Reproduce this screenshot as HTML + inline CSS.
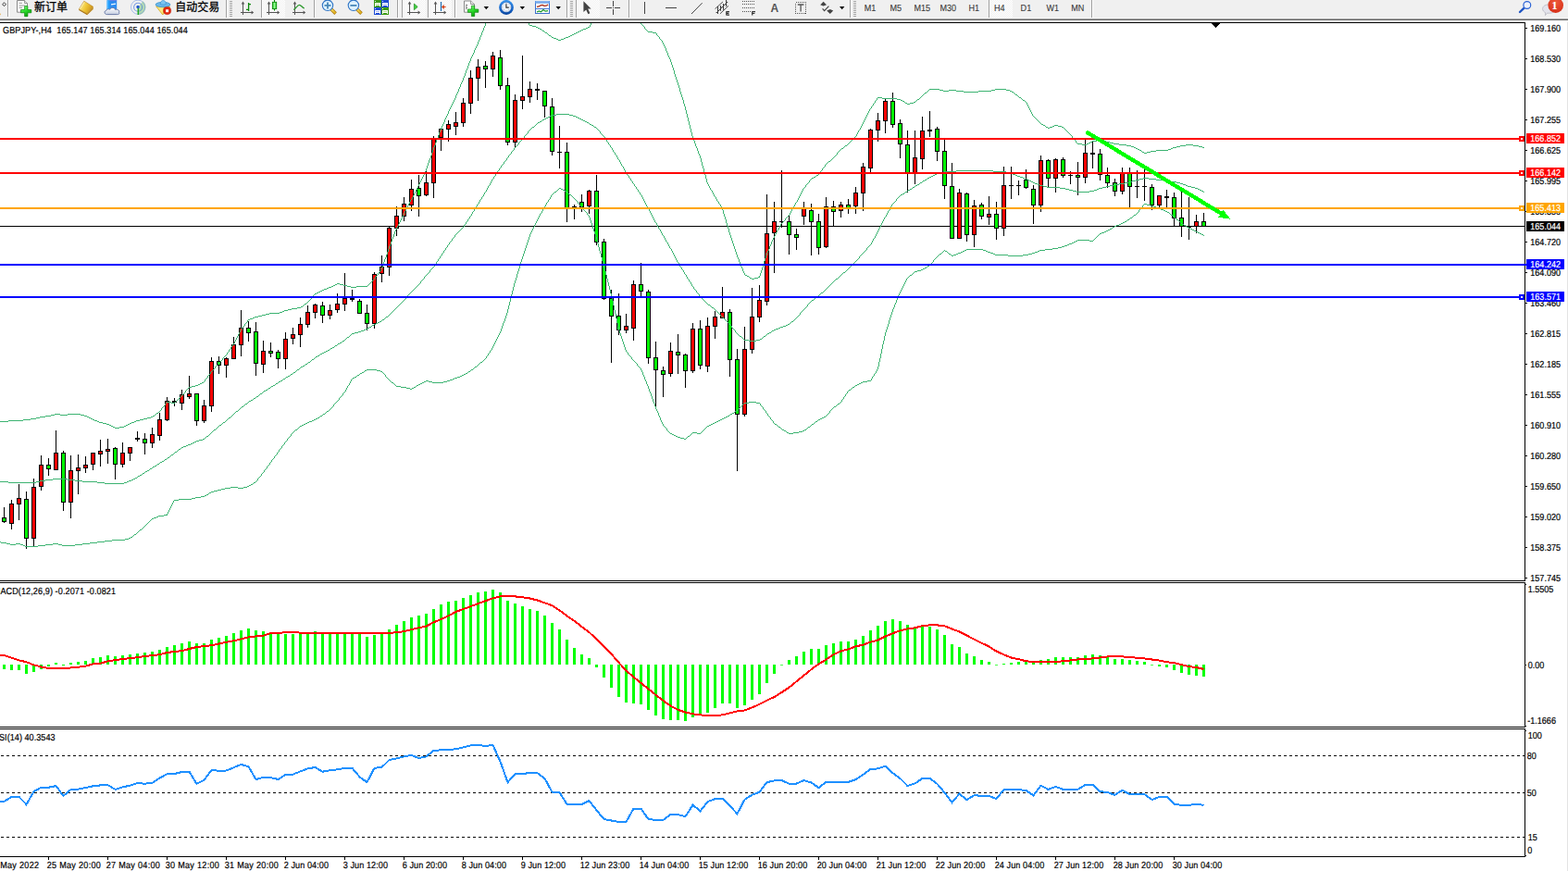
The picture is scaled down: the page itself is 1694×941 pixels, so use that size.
<!DOCTYPE html>
<html><head><meta charset="utf-8"><title>GBPJPY-,H4</title>
<style>html,body{margin:0;padding:0;background:#fff;overflow:hidden}body{width:1694px;height:941px;position:relative;font-family:"Liberation Sans",sans-serif}svg text{white-space:pre}</style>
</head><body>
<svg width="1694" height="941" viewBox="0 0 1694 941" style="position:absolute;left:0;top:0"><defs><clipPath id="cm"><rect x="0" y="25" width="1647" height="602"/></clipPath><clipPath id="cd"><rect x="0" y="630" width="1647" height="155"/></clipPath><clipPath id="cr"><rect x="0" y="788" width="1647" height="137"/></clipPath></defs><g shape-rendering="crispEdges"><rect x="0" y="24" width="1648" height="1" fill="#000"/><rect x="0" y="627" width="1648" height="1" fill="#000"/><rect x="1647" y="24" width="1" height="604" fill="#000"/><rect x="0" y="629" width="1648" height="1" fill="#000"/><rect x="0" y="785" width="1648" height="1" fill="#000"/><rect x="1647" y="629" width="1" height="157" fill="#000"/><rect x="0" y="787" width="1648" height="1" fill="#000"/><rect x="0" y="925" width="1648" height="1" fill="#000"/><rect x="1647" y="787" width="1" height="139" fill="#000"/><rect x="1693" y="22" width="1" height="919" fill="#e3e3e3"/><rect x="1648" y="30" width="2" height="1" fill="#000"/><rect x="1648" y="63" width="2" height="1" fill="#000"/><rect x="1648" y="96" width="2" height="1" fill="#000"/><rect x="1648" y="129" width="2" height="1" fill="#000"/><rect x="1648" y="162" width="2" height="1" fill="#000"/><rect x="1648" y="195" width="2" height="1" fill="#000"/><rect x="1648" y="228" width="2" height="1" fill="#000"/><rect x="1648" y="261" width="2" height="1" fill="#000"/><rect x="1648" y="294" width="2" height="1" fill="#000"/><rect x="1648" y="327" width="2" height="1" fill="#000"/><rect x="1648" y="360" width="2" height="1" fill="#000"/><rect x="1648" y="393" width="2" height="1" fill="#000"/><rect x="1648" y="426" width="2" height="1" fill="#000"/><rect x="1648" y="459" width="2" height="1" fill="#000"/><rect x="1648" y="492" width="2" height="1" fill="#000"/><rect x="1648" y="525" width="2" height="1" fill="#000"/><rect x="1648" y="558" width="2" height="1" fill="#000"/><rect x="1648" y="591" width="2" height="1" fill="#000"/><rect x="1648" y="624" width="2" height="1" fill="#000"/><rect x="1648" y="631" width="1" height="1" fill="#000"/><rect x="1648" y="718" width="1" height="1" fill="#000"/><rect x="1648" y="784" width="1" height="1" fill="#000"/><rect x="1648" y="789" width="1" height="1" fill="#000"/><rect x="1648" y="924" width="1" height="1" fill="#000"/><rect x="52" y="926" width="1" height="3" fill="#000"/><rect x="116" y="926" width="1" height="3" fill="#000"/><rect x="180" y="926" width="1" height="3" fill="#000"/><rect x="244" y="926" width="1" height="3" fill="#000"/><rect x="308" y="926" width="1" height="3" fill="#000"/><rect x="372" y="926" width="1" height="3" fill="#000"/><rect x="436" y="926" width="1" height="3" fill="#000"/><rect x="500" y="926" width="1" height="3" fill="#000"/><rect x="564" y="926" width="1" height="3" fill="#000"/><rect x="628" y="926" width="1" height="3" fill="#000"/><rect x="692" y="926" width="1" height="3" fill="#000"/><rect x="756" y="926" width="1" height="3" fill="#000"/><rect x="820" y="926" width="1" height="3" fill="#000"/><rect x="884" y="926" width="1" height="3" fill="#000"/><rect x="948" y="926" width="1" height="3" fill="#000"/><rect x="1012" y="926" width="1" height="3" fill="#000"/><rect x="1076" y="926" width="1" height="3" fill="#000"/><rect x="1140" y="926" width="1" height="3" fill="#000"/><rect x="1204" y="926" width="1" height="3" fill="#000"/><rect x="1268" y="926" width="1" height="3" fill="#000"/><polygon points="1308.6,25 1318.4,25 1313.5,30.2" fill="#000"/><rect x="0" y="244" width="1647" height="1" fill="#000"/></g><g shape-rendering="crispEdges" clip-path="url(#cm)"><rect x="4" y="548" width="1" height="17" fill="#000"/><rect x="2" y="559" width="5" height="5" fill="#000"/><rect x="3" y="560" width="3" height="3" fill="#00ff00"/><rect x="12" y="540" width="1" height="32" fill="#000"/><rect x="10" y="544" width="5" height="22" fill="#000"/><rect x="11" y="545" width="3" height="20" fill="#ff0000"/><rect x="20" y="523" width="1" height="39" fill="#000"/><rect x="18" y="538" width="5" height="7" fill="#000"/><rect x="19" y="539" width="3" height="5" fill="#ff0000"/><rect x="28" y="531" width="1" height="62" fill="#000"/><rect x="26" y="539" width="5" height="43" fill="#000"/><rect x="27" y="540" width="3" height="41" fill="#00ff00"/><rect x="36" y="517" width="1" height="74" fill="#000"/><rect x="34" y="526" width="5" height="56" fill="#000"/><rect x="35" y="527" width="3" height="54" fill="#ff0000"/><rect x="44" y="492" width="1" height="38" fill="#000"/><rect x="42" y="502" width="5" height="24" fill="#000"/><rect x="43" y="503" width="3" height="22" fill="#ff0000"/><rect x="52" y="495" width="1" height="19" fill="#000"/><rect x="50" y="502" width="5" height="5" fill="#000"/><rect x="51" y="503" width="3" height="3" fill="#00ff00"/><rect x="60" y="465" width="1" height="43" fill="#000"/><rect x="58" y="489" width="5" height="19" fill="#000"/><rect x="59" y="490" width="3" height="17" fill="#ff0000"/><rect x="68" y="487" width="1" height="65" fill="#000"/><rect x="66" y="489" width="5" height="54" fill="#000"/><rect x="67" y="490" width="3" height="52" fill="#00ff00"/><rect x="76" y="492" width="1" height="68" fill="#000"/><rect x="74" y="508" width="5" height="35" fill="#000"/><rect x="75" y="509" width="3" height="33" fill="#ff0000"/><rect x="84" y="491" width="1" height="43" fill="#000"/><rect x="82" y="505" width="5" height="4" fill="#000"/><rect x="83" y="506" width="3" height="2" fill="#ff0000"/><rect x="92" y="493" width="1" height="18" fill="#000"/><rect x="90" y="502" width="5" height="4" fill="#000"/><rect x="91" y="503" width="3" height="2" fill="#ff0000"/><rect x="100" y="489" width="1" height="19" fill="#000"/><rect x="98" y="489" width="5" height="13" fill="#000"/><rect x="99" y="490" width="3" height="11" fill="#ff0000"/><rect x="108" y="475" width="1" height="29" fill="#000"/><rect x="106" y="487" width="5" height="4" fill="#000"/><rect x="107" y="488" width="3" height="2" fill="#ff0000"/><rect x="116" y="474" width="1" height="27" fill="#000"/><rect x="114" y="485" width="5" height="3" fill="#000"/><rect x="115" y="486" width="3" height="1" fill="#ff0000"/><rect x="124" y="483" width="1" height="35" fill="#000"/><rect x="122" y="484" width="5" height="18" fill="#000"/><rect x="123" y="485" width="3" height="16" fill="#00ff00"/><rect x="132" y="478" width="1" height="27" fill="#000"/><rect x="130" y="489" width="5" height="13" fill="#000"/><rect x="131" y="490" width="3" height="11" fill="#ff0000"/><rect x="140" y="483" width="1" height="15" fill="#000"/><rect x="138" y="483" width="5" height="7" fill="#000"/><rect x="139" y="484" width="3" height="5" fill="#ff0000"/><rect x="148" y="466" width="1" height="11" fill="#000"/><rect x="146" y="473" width="5" height="2" fill="#000"/><rect x="156" y="468" width="1" height="23" fill="#000"/><rect x="154" y="474" width="5" height="5" fill="#000"/><rect x="155" y="475" width="3" height="3" fill="#00ff00"/><rect x="164" y="462" width="1" height="22" fill="#000"/><rect x="162" y="469" width="5" height="10" fill="#000"/><rect x="163" y="470" width="3" height="8" fill="#ff0000"/><rect x="172" y="446" width="1" height="30" fill="#000"/><rect x="170" y="453" width="5" height="18" fill="#000"/><rect x="171" y="454" width="3" height="16" fill="#ff0000"/><rect x="180" y="429" width="1" height="26" fill="#000"/><rect x="178" y="433" width="5" height="21" fill="#000"/><rect x="179" y="434" width="3" height="19" fill="#ff0000"/><rect x="188" y="430" width="1" height="9" fill="#000"/><rect x="186" y="433" width="5" height="2" fill="#000"/><rect x="196" y="421" width="1" height="22" fill="#000"/><rect x="194" y="426" width="5" height="10" fill="#000"/><rect x="195" y="427" width="3" height="8" fill="#ff0000"/><rect x="204" y="406" width="1" height="25" fill="#000"/><rect x="202" y="425" width="5" height="4" fill="#000"/><rect x="203" y="426" width="3" height="2" fill="#ff0000"/><rect x="212" y="425" width="1" height="35" fill="#000"/><rect x="210" y="425" width="5" height="30" fill="#000"/><rect x="211" y="426" width="3" height="28" fill="#00ff00"/><rect x="220" y="432" width="1" height="25" fill="#000"/><rect x="218" y="438" width="5" height="17" fill="#000"/><rect x="219" y="439" width="3" height="15" fill="#ff0000"/><rect x="228" y="386" width="1" height="59" fill="#000"/><rect x="226" y="390" width="5" height="49" fill="#000"/><rect x="227" y="391" width="3" height="47" fill="#ff0000"/><rect x="236" y="385" width="1" height="19" fill="#000"/><rect x="234" y="390" width="5" height="5" fill="#000"/><rect x="235" y="391" width="3" height="3" fill="#00ff00"/><rect x="244" y="386" width="1" height="22" fill="#000"/><rect x="242" y="387" width="5" height="8" fill="#000"/><rect x="243" y="388" width="3" height="6" fill="#ff0000"/><rect x="252" y="364" width="1" height="24" fill="#000"/><rect x="250" y="372" width="5" height="16" fill="#000"/><rect x="251" y="373" width="3" height="14" fill="#ff0000"/><rect x="260" y="335" width="1" height="50" fill="#000"/><rect x="258" y="354" width="5" height="19" fill="#000"/><rect x="259" y="355" width="3" height="17" fill="#ff0000"/><rect x="268" y="347" width="1" height="22" fill="#000"/><rect x="266" y="354" width="5" height="6" fill="#000"/><rect x="267" y="355" width="3" height="4" fill="#00ff00"/><rect x="276" y="348" width="1" height="58" fill="#000"/><rect x="274" y="358" width="5" height="35" fill="#000"/><rect x="275" y="359" width="3" height="33" fill="#00ff00"/><rect x="284" y="368" width="1" height="35" fill="#000"/><rect x="282" y="379" width="5" height="15" fill="#000"/><rect x="283" y="380" width="3" height="13" fill="#ff0000"/><rect x="292" y="370" width="1" height="16" fill="#000"/><rect x="290" y="379" width="5" height="3" fill="#000"/><rect x="291" y="380" width="3" height="1" fill="#00ff00"/><rect x="300" y="378" width="1" height="20" fill="#000"/><rect x="298" y="380" width="5" height="8" fill="#000"/><rect x="299" y="381" width="3" height="6" fill="#00ff00"/><rect x="308" y="359" width="1" height="40" fill="#000"/><rect x="306" y="366" width="5" height="22" fill="#000"/><rect x="307" y="367" width="3" height="20" fill="#ff0000"/><rect x="316" y="354" width="1" height="18" fill="#000"/><rect x="314" y="361" width="5" height="5" fill="#000"/><rect x="315" y="362" width="3" height="3" fill="#ff0000"/><rect x="324" y="343" width="1" height="32" fill="#000"/><rect x="322" y="350" width="5" height="12" fill="#000"/><rect x="323" y="351" width="3" height="10" fill="#ff0000"/><rect x="332" y="330" width="1" height="24" fill="#000"/><rect x="330" y="337" width="5" height="14" fill="#000"/><rect x="331" y="338" width="3" height="12" fill="#ff0000"/><rect x="340" y="328" width="1" height="16" fill="#000"/><rect x="338" y="329" width="5" height="9" fill="#000"/><rect x="339" y="330" width="3" height="7" fill="#ff0000"/><rect x="348" y="326" width="1" height="23" fill="#000"/><rect x="346" y="330" width="5" height="11" fill="#000"/><rect x="347" y="331" width="3" height="9" fill="#00ff00"/><rect x="356" y="329" width="1" height="16" fill="#000"/><rect x="354" y="335" width="5" height="6" fill="#000"/><rect x="355" y="336" width="3" height="4" fill="#ff0000"/><rect x="364" y="317" width="1" height="21" fill="#000"/><rect x="362" y="328" width="5" height="7" fill="#000"/><rect x="363" y="329" width="3" height="5" fill="#ff0000"/><rect x="372" y="295" width="1" height="41" fill="#000"/><rect x="370" y="322" width="5" height="7" fill="#000"/><rect x="371" y="323" width="3" height="5" fill="#ff0000"/><rect x="380" y="313" width="1" height="13" fill="#000"/><rect x="378" y="322" width="5" height="2" fill="#000"/><rect x="388" y="323" width="1" height="16" fill="#000"/><rect x="386" y="325" width="5" height="14" fill="#000"/><rect x="387" y="326" width="3" height="12" fill="#00ff00"/><rect x="396" y="329" width="1" height="28" fill="#000"/><rect x="394" y="338" width="5" height="12" fill="#000"/><rect x="395" y="339" width="3" height="10" fill="#00ff00"/><rect x="404" y="294" width="1" height="61" fill="#000"/><rect x="402" y="296" width="5" height="54" fill="#000"/><rect x="403" y="297" width="3" height="52" fill="#ff0000"/><rect x="412" y="276" width="1" height="29" fill="#000"/><rect x="410" y="288" width="5" height="8" fill="#000"/><rect x="411" y="289" width="3" height="6" fill="#ff0000"/><rect x="420" y="245" width="1" height="53" fill="#000"/><rect x="418" y="246" width="5" height="43" fill="#000"/><rect x="419" y="247" width="3" height="41" fill="#ff0000"/><rect x="428" y="223" width="1" height="32" fill="#000"/><rect x="426" y="233" width="5" height="14" fill="#000"/><rect x="427" y="234" width="3" height="12" fill="#ff0000"/><rect x="436" y="213" width="1" height="26" fill="#000"/><rect x="434" y="220" width="5" height="14" fill="#000"/><rect x="435" y="221" width="3" height="12" fill="#ff0000"/><rect x="444" y="194" width="1" height="34" fill="#000"/><rect x="442" y="204" width="5" height="18" fill="#000"/><rect x="443" y="205" width="3" height="16" fill="#ff0000"/><rect x="452" y="189" width="1" height="45" fill="#000"/><rect x="450" y="203" width="5" height="9" fill="#000"/><rect x="451" y="204" width="3" height="7" fill="#00ff00"/><rect x="460" y="182" width="1" height="30" fill="#000"/><rect x="458" y="197" width="5" height="14" fill="#000"/><rect x="459" y="198" width="3" height="12" fill="#ff0000"/><rect x="468" y="147" width="1" height="67" fill="#000"/><rect x="466" y="149" width="5" height="49" fill="#000"/><rect x="467" y="150" width="3" height="47" fill="#ff0000"/><rect x="476" y="139" width="1" height="24" fill="#000"/><rect x="474" y="139" width="5" height="10" fill="#000"/><rect x="475" y="140" width="3" height="8" fill="#ff0000"/><rect x="484" y="130" width="1" height="23" fill="#000"/><rect x="482" y="134" width="5" height="6" fill="#000"/><rect x="483" y="135" width="3" height="4" fill="#ff0000"/><rect x="492" y="121" width="1" height="25" fill="#000"/><rect x="490" y="132" width="5" height="5" fill="#000"/><rect x="491" y="133" width="3" height="3" fill="#ff0000"/><rect x="500" y="106" width="1" height="31" fill="#000"/><rect x="498" y="111" width="5" height="22" fill="#000"/><rect x="499" y="112" width="3" height="20" fill="#ff0000"/><rect x="508" y="76" width="1" height="47" fill="#000"/><rect x="506" y="84" width="5" height="28" fill="#000"/><rect x="507" y="85" width="3" height="26" fill="#ff0000"/><rect x="516" y="64" width="1" height="45" fill="#000"/><rect x="514" y="72" width="5" height="13" fill="#000"/><rect x="515" y="73" width="3" height="11" fill="#ff0000"/><rect x="524" y="66" width="1" height="29" fill="#000"/><rect x="522" y="71" width="5" height="4" fill="#000"/><rect x="523" y="72" width="3" height="2" fill="#00ff00"/><rect x="532" y="56" width="1" height="27" fill="#000"/><rect x="530" y="60" width="5" height="15" fill="#000"/><rect x="531" y="61" width="3" height="13" fill="#ff0000"/><rect x="540" y="54" width="1" height="43" fill="#000"/><rect x="538" y="62" width="5" height="31" fill="#000"/><rect x="539" y="63" width="3" height="29" fill="#00ff00"/><rect x="548" y="84" width="1" height="73" fill="#000"/><rect x="546" y="92" width="5" height="62" fill="#000"/><rect x="547" y="93" width="3" height="60" fill="#00ff00"/><rect x="556" y="102" width="1" height="58" fill="#000"/><rect x="554" y="108" width="5" height="46" fill="#000"/><rect x="555" y="109" width="3" height="44" fill="#ff0000"/><rect x="564" y="60" width="1" height="58" fill="#000"/><rect x="562" y="104" width="5" height="5" fill="#000"/><rect x="563" y="105" width="3" height="3" fill="#ff0000"/><rect x="572" y="88" width="1" height="23" fill="#000"/><rect x="570" y="96" width="5" height="9" fill="#000"/><rect x="571" y="97" width="3" height="7" fill="#ff0000"/><rect x="580" y="90" width="1" height="18" fill="#000"/><rect x="578" y="96" width="5" height="2" fill="#000"/><rect x="588" y="98" width="1" height="29" fill="#000"/><rect x="586" y="98" width="5" height="17" fill="#000"/><rect x="587" y="99" width="3" height="15" fill="#00ff00"/><rect x="596" y="106" width="1" height="62" fill="#000"/><rect x="594" y="115" width="5" height="49" fill="#000"/><rect x="595" y="116" width="3" height="47" fill="#00ff00"/><rect x="604" y="136" width="1" height="46" fill="#000"/><rect x="602" y="164" width="5" height="1" fill="#000"/><rect x="612" y="154" width="1" height="86" fill="#000"/><rect x="610" y="164" width="5" height="61" fill="#000"/><rect x="611" y="165" width="3" height="59" fill="#00ff00"/><rect x="620" y="221" width="1" height="16" fill="#000"/><rect x="618" y="223" width="5" height="1" fill="#000"/><rect x="628" y="210" width="1" height="19" fill="#000"/><rect x="626" y="218" width="5" height="6" fill="#000"/><rect x="627" y="219" width="3" height="4" fill="#00ff00"/><rect x="636" y="205" width="1" height="26" fill="#000"/><rect x="634" y="206" width="5" height="17" fill="#000"/><rect x="635" y="207" width="3" height="15" fill="#ff0000"/><rect x="644" y="189" width="1" height="76" fill="#000"/><rect x="642" y="206" width="5" height="56" fill="#000"/><rect x="643" y="207" width="3" height="54" fill="#00ff00"/><rect x="652" y="258" width="1" height="66" fill="#000"/><rect x="650" y="261" width="5" height="62" fill="#000"/><rect x="651" y="262" width="3" height="60" fill="#00ff00"/><rect x="660" y="313" width="1" height="79" fill="#000"/><rect x="658" y="322" width="5" height="20" fill="#000"/><rect x="659" y="323" width="3" height="18" fill="#00ff00"/><rect x="668" y="317" width="1" height="45" fill="#000"/><rect x="666" y="341" width="5" height="16" fill="#000"/><rect x="667" y="342" width="3" height="14" fill="#00ff00"/><rect x="676" y="339" width="1" height="21" fill="#000"/><rect x="674" y="352" width="5" height="5" fill="#000"/><rect x="675" y="353" width="3" height="3" fill="#ff0000"/><rect x="684" y="303" width="1" height="65" fill="#000"/><rect x="682" y="307" width="5" height="48" fill="#000"/><rect x="683" y="308" width="3" height="46" fill="#ff0000"/><rect x="692" y="284" width="1" height="36" fill="#000"/><rect x="690" y="307" width="5" height="8" fill="#000"/><rect x="691" y="308" width="3" height="6" fill="#00ff00"/><rect x="700" y="313" width="1" height="80" fill="#000"/><rect x="698" y="315" width="5" height="72" fill="#000"/><rect x="699" y="316" width="3" height="70" fill="#00ff00"/><rect x="708" y="369" width="1" height="70" fill="#000"/><rect x="706" y="386" width="5" height="14" fill="#000"/><rect x="707" y="387" width="3" height="12" fill="#00ff00"/><rect x="716" y="396" width="1" height="33" fill="#000"/><rect x="714" y="400" width="5" height="5" fill="#000"/><rect x="715" y="401" width="3" height="3" fill="#00ff00"/><rect x="724" y="370" width="1" height="37" fill="#000"/><rect x="722" y="379" width="5" height="25" fill="#000"/><rect x="723" y="380" width="3" height="23" fill="#ff0000"/><rect x="732" y="361" width="1" height="43" fill="#000"/><rect x="730" y="380" width="5" height="4" fill="#000"/><rect x="731" y="381" width="3" height="2" fill="#00ff00"/><rect x="740" y="382" width="1" height="37" fill="#000"/><rect x="738" y="383" width="5" height="18" fill="#000"/><rect x="739" y="384" width="3" height="16" fill="#00ff00"/><rect x="748" y="349" width="1" height="54" fill="#000"/><rect x="746" y="355" width="5" height="46" fill="#000"/><rect x="747" y="356" width="3" height="44" fill="#ff0000"/><rect x="756" y="346" width="1" height="53" fill="#000"/><rect x="754" y="355" width="5" height="40" fill="#000"/><rect x="755" y="356" width="3" height="38" fill="#00ff00"/><rect x="764" y="343" width="1" height="59" fill="#000"/><rect x="762" y="352" width="5" height="44" fill="#000"/><rect x="763" y="353" width="3" height="42" fill="#ff0000"/><rect x="772" y="336" width="1" height="30" fill="#000"/><rect x="770" y="342" width="5" height="11" fill="#000"/><rect x="771" y="343" width="3" height="9" fill="#ff0000"/><rect x="780" y="310" width="1" height="34" fill="#000"/><rect x="778" y="337" width="5" height="7" fill="#000"/><rect x="779" y="338" width="3" height="5" fill="#ff0000"/><rect x="788" y="334" width="1" height="73" fill="#000"/><rect x="786" y="337" width="5" height="52" fill="#000"/><rect x="787" y="338" width="3" height="50" fill="#00ff00"/><rect x="796" y="377" width="1" height="132" fill="#000"/><rect x="794" y="388" width="5" height="60" fill="#000"/><rect x="795" y="389" width="3" height="58" fill="#00ff00"/><rect x="804" y="353" width="1" height="97" fill="#000"/><rect x="802" y="377" width="5" height="71" fill="#000"/><rect x="803" y="378" width="3" height="69" fill="#ff0000"/><rect x="812" y="311" width="1" height="71" fill="#000"/><rect x="810" y="342" width="5" height="36" fill="#000"/><rect x="811" y="343" width="3" height="34" fill="#ff0000"/><rect x="820" y="308" width="1" height="40" fill="#000"/><rect x="818" y="324" width="5" height="19" fill="#000"/><rect x="819" y="325" width="3" height="17" fill="#ff0000"/><rect x="828" y="210" width="1" height="120" fill="#000"/><rect x="826" y="252" width="5" height="74" fill="#000"/><rect x="827" y="253" width="3" height="72" fill="#ff0000"/><rect x="836" y="218" width="1" height="77" fill="#000"/><rect x="834" y="239" width="5" height="13" fill="#000"/><rect x="835" y="240" width="3" height="11" fill="#ff0000"/><rect x="844" y="184" width="1" height="62" fill="#000"/><rect x="842" y="239" width="5" height="1" fill="#000"/><rect x="852" y="233" width="1" height="42" fill="#000"/><rect x="850" y="239" width="5" height="15" fill="#000"/><rect x="851" y="240" width="3" height="13" fill="#00ff00"/><rect x="860" y="247" width="1" height="23" fill="#000"/><rect x="858" y="253" width="5" height="4" fill="#000"/><rect x="859" y="254" width="3" height="2" fill="#00ff00"/><rect x="868" y="218" width="1" height="25" fill="#000"/><rect x="866" y="225" width="5" height="9" fill="#000"/><rect x="867" y="226" width="3" height="7" fill="#ff0000"/><rect x="876" y="220" width="1" height="56" fill="#000"/><rect x="874" y="227" width="5" height="13" fill="#000"/><rect x="875" y="228" width="3" height="11" fill="#00ff00"/><rect x="884" y="231" width="1" height="44" fill="#000"/><rect x="882" y="239" width="5" height="29" fill="#000"/><rect x="883" y="240" width="3" height="27" fill="#00ff00"/><rect x="892" y="213" width="1" height="55" fill="#000"/><rect x="890" y="223" width="5" height="44" fill="#000"/><rect x="891" y="224" width="3" height="42" fill="#ff0000"/><rect x="900" y="217" width="1" height="27" fill="#000"/><rect x="898" y="223" width="5" height="6" fill="#000"/><rect x="899" y="224" width="3" height="4" fill="#00ff00"/><rect x="908" y="218" width="1" height="17" fill="#000"/><rect x="906" y="221" width="5" height="7" fill="#000"/><rect x="907" y="222" width="3" height="5" fill="#ff0000"/><rect x="916" y="215" width="1" height="16" fill="#000"/><rect x="914" y="221" width="5" height="4" fill="#000"/><rect x="915" y="222" width="3" height="2" fill="#00ff00"/><rect x="924" y="202" width="1" height="29" fill="#000"/><rect x="922" y="208" width="5" height="15" fill="#000"/><rect x="923" y="209" width="3" height="13" fill="#ff0000"/><rect x="932" y="176" width="1" height="52" fill="#000"/><rect x="930" y="180" width="5" height="29" fill="#000"/><rect x="931" y="181" width="3" height="27" fill="#ff0000"/><rect x="940" y="139" width="1" height="47" fill="#000"/><rect x="938" y="140" width="5" height="42" fill="#000"/><rect x="939" y="141" width="3" height="40" fill="#ff0000"/><rect x="948" y="122" width="1" height="31" fill="#000"/><rect x="946" y="130" width="5" height="11" fill="#000"/><rect x="947" y="131" width="3" height="9" fill="#ff0000"/><rect x="956" y="106" width="1" height="38" fill="#000"/><rect x="954" y="109" width="5" height="22" fill="#000"/><rect x="955" y="110" width="3" height="20" fill="#ff0000"/><rect x="964" y="100" width="1" height="38" fill="#000"/><rect x="962" y="109" width="5" height="26" fill="#000"/><rect x="963" y="110" width="3" height="24" fill="#00ff00"/><rect x="972" y="129" width="1" height="42" fill="#000"/><rect x="970" y="133" width="5" height="23" fill="#000"/><rect x="971" y="134" width="3" height="21" fill="#00ff00"/><rect x="980" y="141" width="1" height="67" fill="#000"/><rect x="978" y="156" width="5" height="31" fill="#000"/><rect x="979" y="157" width="3" height="29" fill="#00ff00"/><rect x="988" y="141" width="1" height="58" fill="#000"/><rect x="986" y="170" width="5" height="17" fill="#000"/><rect x="987" y="171" width="3" height="15" fill="#ff0000"/><rect x="996" y="126" width="1" height="57" fill="#000"/><rect x="994" y="141" width="5" height="31" fill="#000"/><rect x="995" y="142" width="3" height="29" fill="#ff0000"/><rect x="1004" y="120" width="1" height="28" fill="#000"/><rect x="1002" y="140" width="5" height="2" fill="#000"/><rect x="1012" y="137" width="1" height="37" fill="#000"/><rect x="1010" y="139" width="5" height="25" fill="#000"/><rect x="1011" y="140" width="3" height="23" fill="#00ff00"/><rect x="1020" y="151" width="1" height="64" fill="#000"/><rect x="1018" y="163" width="5" height="38" fill="#000"/><rect x="1019" y="164" width="3" height="36" fill="#00ff00"/><rect x="1028" y="176" width="1" height="82" fill="#000"/><rect x="1026" y="201" width="5" height="57" fill="#000"/><rect x="1027" y="202" width="3" height="55" fill="#00ff00"/><rect x="1036" y="204" width="1" height="54" fill="#000"/><rect x="1034" y="208" width="5" height="50" fill="#000"/><rect x="1035" y="209" width="3" height="48" fill="#ff0000"/><rect x="1044" y="208" width="1" height="53" fill="#000"/><rect x="1042" y="209" width="5" height="45" fill="#000"/><rect x="1043" y="210" width="3" height="43" fill="#00ff00"/><rect x="1052" y="216" width="1" height="51" fill="#000"/><rect x="1050" y="222" width="5" height="32" fill="#000"/><rect x="1051" y="223" width="3" height="30" fill="#ff0000"/><rect x="1060" y="219" width="1" height="18" fill="#000"/><rect x="1058" y="221" width="5" height="13" fill="#000"/><rect x="1059" y="222" width="3" height="11" fill="#00ff00"/><rect x="1068" y="212" width="1" height="31" fill="#000"/><rect x="1066" y="231" width="5" height="4" fill="#000"/><rect x="1067" y="232" width="3" height="2" fill="#ff0000"/><rect x="1076" y="218" width="1" height="41" fill="#000"/><rect x="1074" y="231" width="5" height="16" fill="#000"/><rect x="1075" y="232" width="3" height="14" fill="#00ff00"/><rect x="1084" y="180" width="1" height="75" fill="#000"/><rect x="1082" y="200" width="5" height="47" fill="#000"/><rect x="1083" y="201" width="3" height="45" fill="#ff0000"/><rect x="1092" y="180" width="1" height="35" fill="#000"/><rect x="1090" y="200" width="5" height="1" fill="#000"/><rect x="1100" y="195" width="1" height="16" fill="#000"/><rect x="1098" y="200" width="5" height="1" fill="#000"/><rect x="1108" y="183" width="1" height="21" fill="#000"/><rect x="1106" y="194" width="5" height="9" fill="#000"/><rect x="1107" y="195" width="3" height="7" fill="#00ff00"/><rect x="1116" y="200" width="1" height="42" fill="#000"/><rect x="1114" y="204" width="5" height="18" fill="#000"/><rect x="1115" y="205" width="3" height="16" fill="#00ff00"/><rect x="1124" y="168" width="1" height="61" fill="#000"/><rect x="1122" y="173" width="5" height="49" fill="#000"/><rect x="1123" y="174" width="3" height="47" fill="#ff0000"/><rect x="1132" y="172" width="1" height="30" fill="#000"/><rect x="1130" y="173" width="5" height="20" fill="#000"/><rect x="1131" y="174" width="3" height="18" fill="#00ff00"/><rect x="1140" y="171" width="1" height="37" fill="#000"/><rect x="1138" y="172" width="5" height="21" fill="#000"/><rect x="1139" y="173" width="3" height="19" fill="#ff0000"/><rect x="1148" y="170" width="1" height="22" fill="#000"/><rect x="1146" y="172" width="5" height="18" fill="#000"/><rect x="1147" y="173" width="3" height="16" fill="#00ff00"/><rect x="1156" y="185" width="1" height="14" fill="#000"/><rect x="1154" y="189" width="5" height="1" fill="#000"/><rect x="1164" y="175" width="1" height="36" fill="#000"/><rect x="1162" y="189" width="5" height="3" fill="#000"/><rect x="1163" y="190" width="3" height="1" fill="#00ff00"/><rect x="1172" y="151" width="1" height="47" fill="#000"/><rect x="1170" y="165" width="5" height="27" fill="#000"/><rect x="1171" y="166" width="3" height="25" fill="#ff0000"/><rect x="1180" y="152" width="1" height="30" fill="#000"/><rect x="1178" y="165" width="5" height="2" fill="#000"/><rect x="1188" y="161" width="1" height="34" fill="#000"/><rect x="1186" y="166" width="5" height="23" fill="#000"/><rect x="1187" y="167" width="3" height="21" fill="#00ff00"/><rect x="1196" y="181" width="1" height="22" fill="#000"/><rect x="1194" y="189" width="5" height="9" fill="#000"/><rect x="1195" y="190" width="3" height="7" fill="#00ff00"/><rect x="1204" y="193" width="1" height="19" fill="#000"/><rect x="1202" y="197" width="5" height="10" fill="#000"/><rect x="1203" y="198" width="3" height="8" fill="#00ff00"/><rect x="1212" y="181" width="1" height="29" fill="#000"/><rect x="1210" y="187" width="5" height="20" fill="#000"/><rect x="1211" y="188" width="3" height="18" fill="#ff0000"/><rect x="1220" y="181" width="1" height="43" fill="#000"/><rect x="1218" y="187" width="5" height="15" fill="#000"/><rect x="1219" y="188" width="3" height="13" fill="#00ff00"/><rect x="1228" y="184" width="1" height="30" fill="#000"/><rect x="1226" y="201" width="5" height="1" fill="#000"/><rect x="1236" y="178" width="1" height="39" fill="#000"/><rect x="1234" y="201" width="5" height="1" fill="#000"/><rect x="1244" y="199" width="1" height="28" fill="#000"/><rect x="1242" y="202" width="5" height="20" fill="#000"/><rect x="1243" y="203" width="3" height="18" fill="#00ff00"/><rect x="1252" y="211" width="1" height="13" fill="#000"/><rect x="1250" y="211" width="5" height="11" fill="#000"/><rect x="1251" y="212" width="3" height="9" fill="#ff0000"/><rect x="1260" y="205" width="1" height="19" fill="#000"/><rect x="1258" y="212" width="5" height="2" fill="#000"/><rect x="1268" y="208" width="1" height="37" fill="#000"/><rect x="1266" y="213" width="5" height="23" fill="#000"/><rect x="1267" y="214" width="3" height="21" fill="#00ff00"/><rect x="1276" y="207" width="1" height="49" fill="#000"/><rect x="1274" y="235" width="5" height="10" fill="#000"/><rect x="1275" y="236" width="3" height="8" fill="#00ff00"/><rect x="1284" y="213" width="1" height="46" fill="#000"/><rect x="1282" y="245" width="5" height="1" fill="#000"/><rect x="1292" y="232" width="1" height="20" fill="#000"/><rect x="1290" y="239" width="5" height="6" fill="#000"/><rect x="1291" y="240" width="3" height="4" fill="#ff0000"/><rect x="1300" y="230" width="1" height="15" fill="#000"/><rect x="1298" y="239" width="5" height="6" fill="#000"/><rect x="1299" y="240" width="3" height="4" fill="#00ff00"/></g><path d="M572 27.5h3M575 28.5h4M579 29.5h2M635 29.5h2M581 30.5h2M633 30.5h2M583 31.5h2M630 31.5h3M628 32.5h2M586 33.5h2M626 33.5h2M624 34.5h2M700 34.5h5M589 35.5h2M622 35.5h2M705 35.5h4M620 36.5h2M618 37.5h2M593 38.5h2M616 38.5h2M614 39.5h2M596 40.5h2M611 40.5h3M598 41.5h3M609 41.5h2M601 42.5h2M606 42.5h3M603 43.5h3M1004 96.5h11M1075 96.5h12M1015 97.5h4M1025 97.5h8M1071 97.5h4M1087 97.5h4M1019 98.5h6M1033 98.5h8M1057 98.5h14M1091 98.5h2M1041 99.5h16M1093 99.5h2M999 100.5h2M1097 102.5h2M948 105.5h5M1101 105.5h2M953 106.5h16M969 107.5h4M991 107.5h2M973 108.5h2M1105 108.5h2M975 109.5h2M987 110.5h2M978 111.5h2M983 111.5h4M980 112.5h3M1125 134.5h2M1127 135.5h2M1139 135.5h4M1137 136.5h2M1143 136.5h4M1130 137.5h2M1134 137.5h3M1147 137.5h2M1132 138.5h2M1185 151.5h6M1180 152.5h5M1191 152.5h4M1178 153.5h2M1195 153.5h4M1176 154.5h2M1199 154.5h4M1164 155.5h5M1174 155.5h2M1203 155.5h6M1169 156.5h5M1209 156.5h8M1281 156.5h8M913 157.5h2M1217 157.5h5M1275 157.5h6M1289 157.5h6M1222 158.5h3M1271 158.5h4M1295 158.5h4M1225 159.5h2M1267 159.5h4M1299 159.5h2M909 160.5h2M1227 160.5h2M1265 160.5h2M1229 161.5h2M1262 161.5h3M1231 162.5h2M1249 162.5h13M1243 163.5h6M1234 164.5h2M1239 164.5h4M1236 165.5h3M895 174.5h2M882 189.5h2M879 191.5h2M877 192.5h2M805 297.5h2M807 298.5h2M819 299.5h2M810 300.5h2M815 300.5h4M812 301.5h3M364 306.5h3M362 307.5h2M367 307.5h4M360 308.5h2M371 308.5h4M358 309.5h2M375 309.5h4M385 309.5h12M355 310.5h3M379 310.5h6M353 311.5h2M350 312.5h3M348 313.5h2M346 314.5h2M344 315.5h2M342 316.5h2M340 317.5h2M329 328.5h2M325 331.5h2M321 332.5h4M315 333.5h6M311 334.5h4M307 335.5h4M305 336.5h2M302 337.5h3M291 338.5h11M287 339.5h4M283 340.5h4M279 341.5h4M275 342.5h4M273 343.5h2M270 344.5h3M268 345.5h2M218 413.5h2M216 414.5h2M214 415.5h2M211 416.5h3M207 417.5h4M204 418.5h3M180 434.5h5M185 435.5h4M169 446.5h2M59 447.5h6M73 447.5h14M55 448.5h4M65 448.5h8M87 448.5h4M49 449.5h6M91 449.5h3M165 449.5h2M43 450.5h6M94 450.5h2M163 450.5h2M39 451.5h4M96 451.5h2M159 451.5h4M33 452.5h6M98 452.5h2M155 452.5h4M25 453.5h8M100 453.5h2M151 453.5h4M9 454.5h16M102 454.5h3M147 454.5h4M0 455.5h9M105 455.5h2M145 455.5h2M107 456.5h4M142 456.5h3M111 457.5h4M140 457.5h2M115 458.5h3M138 458.5h2M118 459.5h2M136 459.5h2M120 460.5h2M134 460.5h2M122 461.5h2M129 461.5h5M124 462.5h5M167 448.5h1M168 447.5h1M171 445.5h1M172 444.5h1M173 443.5h1M174.5 441v2M175 440.5h1M176 439.5h1M177 438.5h1M178.5 436v2M179 435.5h1M189 434.5h1M190 433.5h1M191 432.5h1M192 431.5h1M193 430.5h1M194 429.5h1M195 428.5h1M196 427.5h1M197 426.5h1M198 425.5h1M199 424.5h1M200.5 422v2M201 421.5h1M202 420.5h1M203 419.5h1M220 412.5h1M221.5 410v2M222 409.5h1M223 408.5h1M224.5 406v2M225 405.5h1M226 404.5h1M227.5 402v2M228 401.5h1M229 400.5h1M230 399.5h1M231 398.5h1M232.5 396v2M233 395.5h1M234 394.5h1M235 393.5h1M236 392.5h1M237 391.5h1M238 390.5h1M239 389.5h1M240.5 387v2M241 386.5h1M242 385.5h1M243 384.5h1M244 383.5h1M245.5 381v2M246 380.5h1M247.5 378v2M248 377.5h1M249.5 375v2M250 374.5h1M251.5 372v2M252 371.5h1M253.5 369v2M254.5 367v2M255.5 365v2M256.5 363v2M257.5 361v2M258.5 359v2M259.5 357v2M260 356.5h1M261.5 354v2M262 353.5h1M263 352.5h1M264.5 350v2M265 349.5h1M266 348.5h1M267.5 346v2M327 330.5h1M328 329.5h1M331 327.5h1M332 326.5h1M333 325.5h1M334 324.5h1M335 323.5h1M336.5 321v2M337 320.5h1M338 319.5h1M339 318.5h1M397 308.5h1M398 307.5h1M399 306.5h1M400 305.5h1M401 304.5h1M402 303.5h1M403 302.5h1M404 301.5h1M405.5 299v2M406 298.5h1M407 297.5h1M408.5 295v2M409 294.5h1M410 293.5h1M411.5 291v2M412.5 289v2M413.5 286v3M414.5 283v3M415.5 280v3M416.5 278v2M417.5 275v3M418.5 272v3M419.5 269v3M420.5 266v3M421.5 264v2M422.5 261v3M423.5 258v3M424.5 256v2M425.5 253v3M426.5 250v3M427.5 248v2M428.5 246v2M429.5 244v2M430.5 242v2M431.5 240v2M432.5 238v2M433.5 236v2M434.5 234v2M435.5 232v2M436.5 230v2M437.5 228v2M438.5 226v2M439.5 224v2M440.5 222v2M441.5 220v2M442.5 218v2M443.5 216v2M444 215.5h1M445.5 213v2M446.5 211v2M447.5 209v2M448.5 207v2M449.5 205v2M450.5 203v2M451.5 201v2M452.5 199v2M453.5 197v2M454.5 195v2M455.5 193v2M456.5 191v2M457.5 189v2M458.5 187v2M459.5 185v2M460.5 182v3M461.5 179v3M462.5 176v3M463.5 173v3M464.5 171v2M465.5 168v3M466.5 165v3M467.5 162v3M468.5 159v3M469.5 157v2M470.5 154v3M471.5 151v3M472.5 149v2M473.5 146v3M474.5 143v3M475.5 141v2M476.5 138v3M477.5 136v2M478.5 134v2M479.5 132v2M480.5 129v3M481.5 127v2M482.5 125v2M483.5 123v2M484.5 120v3M485.5 118v2M486.5 116v2M487.5 114v2M488.5 112v2M489.5 110v2M490.5 108v2M491.5 106v2M492.5 103v3M493.5 101v2M494.5 99v2M495.5 96v3M496.5 94v2M497.5 91v3M498.5 89v2M499.5 87v2M500.5 84v3M501.5 82v2M502.5 79v3M503.5 76v3M504.5 74v2M505.5 71v3M506.5 68v3M507.5 66v2M508.5 63v3M509.5 61v2M510.5 59v2M511.5 57v2M512.5 54v3M513.5 52v2M514.5 50v2M515.5 48v2M516.5 45v3M517.5 43v2M518.5 40v3M519.5 38v2M520.5 35v3M521.5 33v2M522.5 30v3M523.5 28v2M524.5 25v3M571.5 25v2M585 32.5h1M588 34.5h1M591 36.5h1M592 37.5h1M595 39.5h1M637.5 27v2M638.5 25v2M692 25.5h1M693 26.5h1M694 27.5h1M695 28.5h1M696.5 29v2M697 31.5h1M698 32.5h1M699 33.5h1M709.5 36v2M710 38.5h1M711 39.5h1M712.5 40v2M713 42.5h1M714 43.5h1M715.5 44v2M716.5 46v2M717.5 48v2M718.5 50v2M719.5 52v3M720.5 55v2M721.5 57v3M722.5 60v2M723.5 62v2M724.5 64v3M725.5 67v3M726.5 70v3M727.5 73v3M728.5 76v4M729.5 80v3M730.5 83v3M731.5 86v3M732.5 89v3M733.5 92v3M734.5 95v4M735.5 99v3M736.5 102v3M737.5 105v3M738.5 108v4M739.5 112v3M740.5 115v4M741.5 119v4M742.5 123v4M743.5 127v4M744.5 131v4M745.5 135v4M746.5 139v4M747.5 143v4M748.5 147v3M749.5 150v2M750.5 152v3M751.5 155v3M752.5 158v2M753.5 160v3M754.5 163v3M755.5 166v2M756.5 168v3M757.5 171v4M758.5 175v4M759.5 179v3M760.5 182v4M761.5 186v3M762.5 189v4M763.5 193v4M764.5 197v2M765.5 199v2M766.5 201v2M767.5 203v2M768 205.5h1M769.5 206v2M770.5 208v2M771.5 210v2M772 212.5h1M773.5 213v2M774.5 215v2M775 217.5h1M776.5 218v2M777 220.5h1M778.5 221v2M779.5 223v2M780.5 225v2M781.5 227v4M782.5 231v3M783.5 234v3M784.5 237v4M785.5 241v3M786.5 244v3M787.5 247v4M788.5 251v3M789.5 254v3M790.5 257v3M791.5 260v3M792.5 263v3M793.5 266v3M794.5 269v3M795.5 272v3M796.5 275v3M797.5 278v2M798.5 280v3M799.5 283v2M800.5 285v3M801.5 288v2M802.5 290v3M803.5 293v2M804.5 295v2M809 299.5h1M820 298.5h1M821.5 295v3M822.5 292v3M823.5 289v3M824.5 285v4M825.5 282v3M826.5 279v3M827.5 276v3M828.5 273v3M829.5 271v2M830.5 269v2M831.5 266v3M832.5 264v2M833.5 261v3M834.5 259v2M835.5 257v2M836.5 255v2M837.5 253v2M838.5 251v2M839.5 249v2M840 248.5h1M841.5 246v2M842.5 244v2M843.5 242v2M844 241.5h1M845 240.5h1M846 239.5h1M847 238.5h1M848.5 236v2M849 235.5h1M850 234.5h1M851 233.5h1M852 232.5h1M853.5 230v2M854.5 228v2M855.5 226v2M856 225.5h1M857.5 223v2M858.5 221v2M859.5 219v2M860 218.5h1M861.5 216v2M862.5 214v2M863.5 212v2M864.5 210v2M865.5 208v2M866.5 206v2M867.5 204v2M868 203.5h1M869 202.5h1M870.5 200v2M871 199.5h1M872 198.5h1M873 197.5h1M874.5 195v2M875 194.5h1M876 193.5h1M881 190.5h1M884 188.5h1M885.5 186v2M886 185.5h1M887 184.5h1M888.5 182v2M889 181.5h1M890 180.5h1M891.5 178v2M892 177.5h1M893 176.5h1M894 175.5h1M897 173.5h1M898 172.5h1M899 171.5h1M900 170.5h1M901 169.5h1M902 168.5h1M903 167.5h1M904.5 165v2M905 164.5h1M906 163.5h1M907 162.5h1M908 161.5h1M911 159.5h1M912 158.5h1M915 156.5h1M916 155.5h1M917 154.5h1M918 153.5h1M919 152.5h1M920 151.5h1M921 150.5h1M922 149.5h1M923 148.5h1M924 147.5h1M925.5 145v2M926.5 143v2M927.5 141v2M928 140.5h1M929.5 138v2M930.5 136v2M931.5 134v2M932.5 132v2M933.5 130v2M934.5 128v2M935.5 126v2M936.5 124v2M937.5 122v2M938.5 120v2M939.5 118v2M940 117.5h1M941.5 115v2M942 114.5h1M943.5 112v2M944 111.5h1M945.5 109v2M946 108.5h1M947.5 106v2M977 110.5h1M989 109.5h1M990 108.5h1M993 106.5h1M994 105.5h1M995 104.5h1M996 103.5h1M997 102.5h1M998 101.5h1M1001 99.5h1M1002 98.5h1M1003 97.5h1M1095 100.5h1M1096 101.5h1M1099 103.5h1M1100 104.5h1M1103 106.5h1M1104 107.5h1M1107 109.5h1M1108 110.5h1M1109.5 111v2M1110.5 113v2M1111.5 115v2M1112.5 117v2M1113.5 119v2M1114.5 121v2M1115.5 123v2M1116 125.5h1M1117 126.5h1M1118 127.5h1M1119 128.5h1M1120 129.5h1M1121 130.5h1M1122 131.5h1M1123 132.5h1M1124 133.5h1M1129 136.5h1M1149 138.5h1M1150 139.5h1M1151 140.5h1M1152 141.5h1M1153 142.5h1M1154 143.5h1M1155 144.5h1M1156 145.5h1M1157 146.5h1M1158.5 147v2M1159 149.5h1M1160 150.5h1M1161 151.5h1M1162.5 152v2M1163 154.5h1M1233 163.5h1M601 123.5h14M596 124.5h5M615 124.5h4M594 125.5h2M619 125.5h3M592 126.5h2M622 126.5h2M590 127.5h2M624 127.5h2M588 128.5h2M626 128.5h2M586 129.5h2M628 129.5h2M630 130.5h2M583 131.5h2M632 131.5h2M581 132.5h2M634 132.5h2M637 134.5h2M639 135.5h2M575 137.5h2M642 137.5h2M1033 184.5h40M1019 185.5h14M1073 185.5h14M1015 186.5h4M1087 186.5h4M1012 187.5h3M1091 187.5h3M1010 188.5h2M1094 188.5h3M1008 189.5h2M1097 189.5h2M1006 190.5h2M1099 190.5h3M1004 191.5h2M1102 191.5h3M1002 192.5h2M1105 192.5h2M1235 192.5h6M1107 193.5h3M1231 193.5h4M1241 193.5h8M999 194.5h2M1110 194.5h2M1227 194.5h4M1249 194.5h8M997 195.5h2M1112 195.5h2M1223 195.5h4M1257 195.5h8M1114 196.5h2M1219 196.5h4M1265 196.5h6M994 197.5h2M1116 197.5h2M1215 197.5h4M1271 197.5h4M1118 198.5h3M1209 198.5h6M1275 198.5h3M991 199.5h2M1121 199.5h2M1203 199.5h6M1278 199.5h3M989 200.5h2M1123 200.5h4M1199 200.5h4M1281 200.5h2M1127 201.5h4M1195 201.5h4M1283 201.5h4M986 202.5h2M1131 202.5h14M1191 202.5h4M1287 202.5h4M1145 203.5h6M1187 203.5h4M1291 203.5h3M983 204.5h2M1151 204.5h4M1185 204.5h2M1294 204.5h2M981 205.5h2M1155 205.5h4M1182 205.5h3M1296 205.5h2M1159 206.5h4M1177 206.5h5M1298 206.5h2M978 207.5h2M1163 207.5h14M975 209.5h2M973 210.5h2M911 294.5h2M903 301.5h2M887 316.5h2M881 321.5h2M877 324.5h2M765 329.5h2M769 332.5h2M417 342.5h2M413 345.5h2M410 347.5h2M855 347.5h2M408 348.5h2M406 349.5h2M404 350.5h2M851 350.5h2M402 351.5h2M849 351.5h2M846 352.5h3M399 353.5h2M843 353.5h3M397 354.5h2M841 354.5h2M395 355.5h2M838 355.5h3M393 356.5h2M836 356.5h2M390 357.5h3M834 357.5h2M387 358.5h3M383 359.5h4M831 359.5h2M380 360.5h3M829 360.5h2M799 363.5h2M825 363.5h2M375 364.5h2M821 366.5h2M804 367.5h5M817 367.5h4M370 368.5h2M809 368.5h8M367 370.5h2M365 371.5h2M362 373.5h2M359 375.5h2M357 376.5h2M354 378.5h2M352 379.5h2M350 380.5h2M348 381.5h2M346 382.5h2M343 384.5h2M341 385.5h2M337 388.5h2M333 391.5h2M330 393.5h2M327 395.5h2M325 396.5h2M321 399.5h2M317 402.5h2M314 404.5h2M311 406.5h2M309 407.5h2M306 409.5h2M303 411.5h2M301 412.5h2M298 414.5h2M295 416.5h2M293 417.5h2M290 419.5h2M287 421.5h2M285 422.5h2M281 425.5h2M277 428.5h2M274 430.5h2M271 432.5h2M269 433.5h2M265 436.5h2M261 439.5h2M255 444.5h2M247 451.5h2M241 456.5h2M237 459.5h2M231 464.5h2M223 471.5h2M219 474.5h2M215 475.5h4M212 476.5h3M210 477.5h2M208 478.5h2M206 479.5h2M203 480.5h3M201 481.5h2M198 482.5h3M196 483.5h2M193 485.5h2M189 488.5h2M185 491.5h2M181 494.5h2M178 496.5h2M175 498.5h2M173 499.5h2M170 501.5h2M167 503.5h2M165 504.5h2M162 506.5h2M159 508.5h2M157 509.5h2M154 511.5h2M151 513.5h2M149 514.5h2M146 516.5h2M57 517.5h16M144 517.5h2M49 518.5h8M73 518.5h8M142 518.5h2M43 519.5h6M81 519.5h8M139 519.5h3M0 520.5h9M39 520.5h4M89 520.5h16M137 520.5h2M9 521.5h30M105 521.5h8M134 521.5h3M113 522.5h21M148 515.5h1M153 512.5h1M156 510.5h1M161 507.5h1M164 505.5h1M169 502.5h1M172 500.5h1M177 497.5h1M180 495.5h1M183 493.5h1M184 492.5h1M187 490.5h1M188 489.5h1M191 487.5h1M192 486.5h1M195 484.5h1M221 473.5h1M222 472.5h1M225 470.5h1M226 469.5h1M227 468.5h1M228 467.5h1M229 466.5h1M230 465.5h1M233 463.5h1M234 462.5h1M235 461.5h1M236 460.5h1M239 458.5h1M240 457.5h1M243 455.5h1M244 454.5h1M245 453.5h1M246 452.5h1M249 450.5h1M250 449.5h1M251 448.5h1M252 447.5h1M253 446.5h1M254 445.5h1M257 443.5h1M258 442.5h1M259 441.5h1M260 440.5h1M263 438.5h1M264 437.5h1M267 435.5h1M268 434.5h1M273 431.5h1M276 429.5h1M279 427.5h1M280 426.5h1M283 424.5h1M284 423.5h1M289 420.5h1M292 418.5h1M297 415.5h1M300 413.5h1M305 410.5h1M308 408.5h1M313 405.5h1M316 403.5h1M319 401.5h1M320 400.5h1M323 398.5h1M324 397.5h1M329 394.5h1M332 392.5h1M335 390.5h1M336 389.5h1M339 387.5h1M340 386.5h1M345 383.5h1M356 377.5h1M361 374.5h1M364 372.5h1M369 369.5h1M372 367.5h1M373 366.5h1M374 365.5h1M377 363.5h1M378 362.5h1M379 361.5h1M401 352.5h1M412 346.5h1M415 344.5h1M416 343.5h1M419 341.5h1M420 340.5h1M421 339.5h1M422 338.5h1M423 337.5h1M424 336.5h1M425 335.5h1M426 334.5h1M427 333.5h1M428 332.5h1M429 331.5h1M430 330.5h1M431 329.5h1M432 328.5h1M433 327.5h1M434 326.5h1M435 325.5h1M436 324.5h1M437 323.5h1M438 322.5h1M439 321.5h1M440.5 319v2M441 318.5h1M442 317.5h1M443 316.5h1M444 315.5h1M445 314.5h1M446 313.5h1M447 312.5h1M448 311.5h1M449 310.5h1M450 309.5h1M451 308.5h1M452 307.5h1M453 306.5h1M454.5 304v2M455 303.5h1M456 302.5h1M457 301.5h1M458.5 299v2M459 298.5h1M460 297.5h1M461 296.5h1M462 295.5h1M463 294.5h1M464.5 292v2M465 291.5h1M466 290.5h1M467 289.5h1M468 288.5h1M469.5 286v2M470 285.5h1M471.5 283v2M472 282.5h1M473.5 280v2M474 279.5h1M475.5 277v2M476 276.5h1M477.5 274v2M478 273.5h1M479.5 271v2M480 270.5h1M481.5 268v2M482 267.5h1M483.5 265v2M484 264.5h1M485.5 262v2M486 261.5h1M487 260.5h1M488.5 258v2M489 257.5h1M490 256.5h1M491.5 254v2M492 253.5h1M493 252.5h1M494 251.5h1M495 250.5h1M496 249.5h1M497 248.5h1M498 247.5h1M499 246.5h1M500 245.5h1M501.5 243v2M502 242.5h1M503.5 240v2M504 239.5h1M505.5 237v2M506 236.5h1M507.5 234v2M508 233.5h1M509.5 231v2M510.5 229v2M511 228.5h1M512.5 226v2M513 225.5h1M514.5 223v2M515.5 221v2M516 220.5h1M517.5 218v2M518.5 216v2M519 215.5h1M520.5 213v2M521 212.5h1M522.5 210v2M523.5 208v2M524 207.5h1M525.5 205v2M526.5 203v2M527.5 201v2M528 200.5h1M529.5 198v2M530.5 196v2M531.5 194v2M532 193.5h1M533.5 191v2M534 190.5h1M535.5 188v2M536 187.5h1M537.5 185v2M538 184.5h1M539.5 182v2M540 181.5h1M541.5 179v2M542 178.5h1M543 177.5h1M544.5 175v2M545 174.5h1M546 173.5h1M547.5 171v2M548 170.5h1M549.5 168v2M550 167.5h1M551 166.5h1M552.5 164v2M553 163.5h1M554 162.5h1M555.5 160v2M556 159.5h1M557 158.5h1M558 157.5h1M559 156.5h1M560.5 154v2M561 153.5h1M562 152.5h1M563 151.5h1M564 150.5h1M565 149.5h1M566.5 147v2M567 146.5h1M568 145.5h1M569 144.5h1M570.5 142v2M571 141.5h1M572 140.5h1M573 139.5h1M574 138.5h1M577 136.5h1M578 135.5h1M579 134.5h1M580 133.5h1M585 130.5h1M636 133.5h1M641 136.5h1M644 138.5h1M645 139.5h1M646 140.5h1M647 141.5h1M648.5 142v2M649 144.5h1M650 145.5h1M651 146.5h1M652 147.5h1M653.5 148v2M654 150.5h1M655.5 151v2M656 153.5h1M657.5 154v2M658 156.5h1M659.5 157v2M660 159.5h1M661.5 160v2M662.5 162v2M663 164.5h1M664.5 165v2M665 167.5h1M666.5 168v2M667.5 170v2M668 172.5h1M669.5 173v2M670.5 175v2M671.5 177v2M672 179.5h1M673.5 180v2M674.5 182v2M675.5 184v2M676 186.5h1M677.5 187v2M678 189.5h1M679.5 190v2M680 192.5h1M681.5 193v2M682 195.5h1M683.5 196v2M684 198.5h1M685.5 199v2M686 201.5h1M687.5 202v2M688 204.5h1M689.5 205v2M690 207.5h1M691.5 208v2M692 210.5h1M693.5 211v2M694.5 213v2M695.5 215v2M696.5 217v2M697.5 219v2M698.5 221v2M699.5 223v2M700 225.5h1M701.5 226v2M702.5 228v2M703.5 230v2M704.5 232v2M705.5 234v2M706.5 236v2M707.5 238v2M708 240.5h1M709.5 241v2M710.5 243v2M711.5 245v2M712 247.5h1M713.5 248v2M714.5 250v2M715.5 252v2M716 254.5h1M717.5 255v2M718.5 257v2M719.5 259v2M720 261.5h1M721.5 262v2M722.5 264v2M723.5 266v2M724 268.5h1M725.5 269v2M726.5 271v2M727.5 273v2M728.5 275v2M729.5 277v2M730.5 279v2M731.5 281v2M732 283.5h1M733.5 284v2M734.5 286v2M735 288.5h1M736.5 289v2M737 291.5h1M738.5 292v2M739.5 294v2M740 296.5h1M741.5 297v2M742.5 299v2M743 301.5h1M744.5 302v2M745 304.5h1M746.5 305v2M747.5 307v2M748 309.5h1M749.5 310v2M750 312.5h1M751 313.5h1M752.5 314v2M753 316.5h1M754 317.5h1M755.5 318v2M756 320.5h1M757 321.5h1M758 322.5h1M759 323.5h1M760 324.5h1M761 325.5h1M762 326.5h1M763 327.5h1M764 328.5h1M767 330.5h1M768 331.5h1M771 333.5h1M772 334.5h1M773 335.5h1M774 336.5h1M775 337.5h1M776 338.5h1M777 339.5h1M778 340.5h1M779 341.5h1M780 342.5h1M781 343.5h1M782 344.5h1M783 345.5h1M784 346.5h1M785 347.5h1M786 348.5h1M787 349.5h1M788 350.5h1M789 351.5h1M790.5 352v2M791 354.5h1M792 355.5h1M793 356.5h1M794.5 357v2M795 359.5h1M796 360.5h1M797 361.5h1M798 362.5h1M801 364.5h1M802 365.5h1M803 366.5h1M823 365.5h1M824 364.5h1M827 362.5h1M828 361.5h1M833 358.5h1M853 349.5h1M854 348.5h1M857 346.5h1M858 345.5h1M859 344.5h1M860 343.5h1M861 342.5h1M862 341.5h1M863 340.5h1M864.5 338v2M865 337.5h1M866 336.5h1M867 335.5h1M868 334.5h1M869 333.5h1M870 332.5h1M871 331.5h1M872.5 329v2M873 328.5h1M874 327.5h1M875 326.5h1M876 325.5h1M879 323.5h1M880 322.5h1M883 320.5h1M884 319.5h1M885 318.5h1M886 317.5h1M889 315.5h1M890 314.5h1M891 313.5h1M892 312.5h1M893 311.5h1M894 310.5h1M895 309.5h1M896 308.5h1M897 307.5h1M898 306.5h1M899 305.5h1M900 304.5h1M901 303.5h1M902 302.5h1M905 300.5h1M906 299.5h1M907 298.5h1M908 297.5h1M909 296.5h1M910 295.5h1M913 293.5h1M914 292.5h1M915 291.5h1M916 290.5h1M917 289.5h1M918 288.5h1M919 287.5h1M920 286.5h1M921 285.5h1M922 284.5h1M923 283.5h1M924 282.5h1M925 281.5h1M926 280.5h1M927 279.5h1M928.5 277v2M929 276.5h1M930 275.5h1M931 274.5h1M932 273.5h1M933 272.5h1M934 271.5h1M935 270.5h1M936.5 268v2M937 267.5h1M938 266.5h1M939 265.5h1M940 264.5h1M941.5 262v2M942.5 260v2M943.5 258v2M944 257.5h1M945.5 255v2M946.5 253v2M947.5 251v2M948.5 249v2M949.5 247v2M950.5 245v2M951.5 243v2M952.5 241v2M953.5 239v2M954.5 237v2M955.5 235v2M956 234.5h1M957.5 232v2M958.5 230v2M959.5 228v2M960 227.5h1M961.5 225v2M962.5 223v2M963.5 221v2M964 220.5h1M965 219.5h1M966 218.5h1M967 217.5h1M968.5 215v2M969 214.5h1M970 213.5h1M971 212.5h1M972 211.5h1M977 208.5h1M980 206.5h1M985 203.5h1M988 201.5h1M993 198.5h1M996 196.5h1M1001 193.5h1M1300 207.5h1M604 203.5h2M606 204.5h2M608 205.5h2M610 206.5h2M599 207.5h2M615 210.5h2M1236 220.5h3M1239 221.5h4M1243 222.5h3M1246 223.5h3M1249 224.5h2M1251 225.5h3M1254 226.5h3M1257 227.5h2M1259 228.5h2M1261 229.5h2M1225 232.5h2M1265 232.5h2M1221 235.5h2M1218 237.5h2M1271 237.5h2M1215 239.5h2M1213 240.5h2M1211 241.5h2M1209 242.5h2M1277 242.5h2M1206 243.5h3M1279 243.5h2M1204 244.5h2M1202 245.5h2M1282 245.5h2M1284 246.5h2M1199 247.5h2M1286 247.5h2M1197 248.5h2M1288 248.5h2M1195 249.5h2M1290 249.5h2M1193 250.5h2M1292 250.5h2M1190 251.5h3M1294 251.5h2M1188 252.5h2M1296 252.5h2M1298 253.5h2M1164 259.5h13M1162 260.5h2M1177 260.5h4M1160 261.5h2M1158 262.5h2M1155 263.5h3M1153 264.5h2M1150 265.5h3M1147 266.5h3M1143 267.5h4M1137 268.5h6M1044 269.5h18M1129 269.5h8M1042 270.5h2M1062 270.5h3M1123 270.5h6M1021 271.5h2M1040 271.5h2M1065 271.5h2M1121 271.5h2M1038 272.5h2M1067 272.5h3M1118 272.5h3M1035 273.5h3M1070 273.5h3M1115 273.5h3M1015 274.5h2M1025 274.5h2M1033 274.5h2M1073 274.5h2M1111 274.5h4M1030 275.5h3M1075 275.5h14M1105 275.5h6M1028 276.5h2M1089 276.5h16M1002 287.5h2M999 289.5h2M997 290.5h2M995 291.5h2M991 292.5h4M988 293.5h3M983 297.5h2M519 391.5h2M513 396.5h2M396 399.5h11M509 399.5h2M394 400.5h2M407 400.5h4M411 401.5h2M506 401.5h2M391 402.5h2M389 403.5h2M503 403.5h2M501 404.5h2M386 405.5h2M499 405.5h2M497 406.5h2M383 407.5h2M494 407.5h3M381 408.5h2M491 408.5h3M489 409.5h2M486 410.5h3M460 411.5h3M483 411.5h3M937 411.5h4M458 412.5h2M463 412.5h4M479 412.5h4M932 412.5h5M423 413.5h2M456 413.5h2M467 413.5h12M930 413.5h2M454 414.5h2M928 414.5h2M452 415.5h2M926 415.5h2M450 416.5h2M924 416.5h2M428 417.5h5M433 418.5h6M447 418.5h2M921 418.5h2M439 419.5h4M445 419.5h2M443 420.5h2M917 421.5h2M809 434.5h8M804 435.5h5M817 435.5h4M905 436.5h2M901 439.5h2M353 444.5h2M794 444.5h2M791 446.5h2M349 447.5h2M789 447.5h2M346 449.5h2M786 449.5h2M784 450.5h2M890 450.5h2M343 451.5h2M782 451.5h2M888 451.5h2M341 452.5h2M780 452.5h2M886 452.5h2M339 453.5h2M778 453.5h2M884 453.5h2M337 454.5h2M776 454.5h2M334 455.5h3M774 455.5h2M881 455.5h2M332 456.5h2M772 456.5h2M330 457.5h2M770 457.5h2M328 458.5h2M768 458.5h2M837 458.5h2M877 458.5h2M326 459.5h2M766 459.5h2M324 460.5h2M764 460.5h2M841 461.5h2M873 461.5h2M319 464.5h2M845 464.5h2M869 464.5h2M847 465.5h2M867 465.5h2M863 466.5h4M748 467.5h5M850 467.5h2M857 467.5h6M724 468.5h2M753 468.5h4M852 468.5h5M726 469.5h2M728 470.5h2M730 471.5h2M743 471.5h2M732 472.5h3M735 473.5h4M739 474.5h2M274 521.5h2M271 523.5h2M269 524.5h2M267 525.5h2M249 526.5h8M263 526.5h4M243 527.5h6M257 527.5h6M239 528.5h4M235 529.5h4M231 530.5h4M228 531.5h3M226 532.5h2M223 534.5h2M221 535.5h2M217 536.5h4M211 537.5h6M207 538.5h4M193 539.5h14M188 540.5h5M177 556.5h4M171 557.5h6M169 558.5h2M166 559.5h3M164 560.5h2M151 572.5h2M145 577.5h2M141 580.5h2M139 581.5h2M135 582.5h4M121 583.5h14M113 584.5h8M105 585.5h8M1 586.5h6M97 586.5h8M7 587.5h4M17 587.5h5M57 587.5h6M89 587.5h8M11 588.5h6M22 588.5h3M49 588.5h8M63 588.5h4M81 588.5h8M25 589.5h2M41 589.5h8M67 589.5h14M27 590.5h14M0 585.5h1M143 579.5h1M144 578.5h1M147 576.5h1M148 575.5h1M149 574.5h1M150 573.5h1M153 571.5h1M154 570.5h1M155 569.5h1M156 568.5h1M157 567.5h1M158 566.5h1M159 565.5h1M160 564.5h1M161 563.5h1M162 562.5h1M163 561.5h1M180 555.5h1M181.5 553v2M182.5 551v2M183.5 549v2M184.5 547v2M185.5 545v2M186.5 543v2M187.5 541v2M225 533.5h1M273 522.5h1M276 520.5h1M277 519.5h1M278.5 517v2M279 516.5h1M280 515.5h1M281 514.5h1M282.5 512v2M283 511.5h1M284 510.5h1M285.5 508v2M286 507.5h1M287 506.5h1M288.5 504v2M289 503.5h1M290 502.5h1M291.5 500v2M292 499.5h1M293.5 497v2M294 496.5h1M295 495.5h1M296.5 493v2M297 492.5h1M298 491.5h1M299.5 489v2M300 488.5h1M301.5 486v2M302 485.5h1M303 484.5h1M304.5 482v2M305 481.5h1M306 480.5h1M307.5 478v2M308 477.5h1M309 476.5h1M310.5 474v2M311 473.5h1M312 472.5h1M313 471.5h1M314.5 469v2M315 468.5h1M316 467.5h1M317 466.5h1M318 465.5h1M321 463.5h1M322 462.5h1M323 461.5h1M345 450.5h1M348 448.5h1M351 446.5h1M352 445.5h1M355 443.5h1M356 442.5h1M357 441.5h1M358 440.5h1M359 439.5h1M360.5 437v2M361 436.5h1M362 435.5h1M363 434.5h1M364 433.5h1M365 432.5h1M366.5 430v2M367 429.5h1M368 428.5h1M369 427.5h1M370.5 425v2M371 424.5h1M372 423.5h1M373.5 421v2M374.5 419v2M375.5 417v2M376 416.5h1M377.5 414v2M378.5 412v2M379.5 410v2M380 409.5h1M385 406.5h1M388 404.5h1M393 401.5h1M413 402.5h1M414 403.5h1M415 404.5h1M416.5 405v2M417 407.5h1M418 408.5h1M419 409.5h1M420 410.5h1M421 411.5h1M422 412.5h1M425 414.5h1M426 415.5h1M427 416.5h1M449 417.5h1M505 402.5h1M508 400.5h1M511 398.5h1M512 397.5h1M515 395.5h1M516 394.5h1M517 393.5h1M518 392.5h1M521 390.5h1M522 389.5h1M523 388.5h1M524 387.5h1M525.5 385v2M526 384.5h1M527.5 382v2M528 381.5h1M529.5 379v2M530 378.5h1M531.5 376v2M532.5 374v2M533.5 372v2M534.5 370v2M535.5 368v2M536.5 366v2M537.5 364v2M538.5 362v2M539.5 360v2M540.5 358v2M541.5 355v3M542.5 352v3M543.5 349v3M544.5 347v2M545.5 344v3M546.5 341v3M547.5 338v3M548.5 334v4M549.5 330v4M550.5 326v4M551.5 322v4M552.5 318v4M553.5 314v4M554.5 310v4M555.5 306v4M556.5 303v3M557.5 300v3M558.5 296v4M559.5 293v3M560.5 290v3M561.5 287v3M562.5 283v4M563.5 280v3M564.5 277v3M565.5 274v3M566.5 271v3M567.5 268v3M568.5 265v3M569.5 262v3M570.5 259v3M571.5 256v3M572.5 253v3M573.5 251v2M574.5 249v2M575.5 247v2M576.5 245v2M577.5 243v2M578.5 241v2M579.5 239v2M580.5 237v2M581.5 235v2M582.5 233v2M583.5 231v2M584 230.5h1M585.5 228v2M586.5 226v2M587.5 224v2M588 223.5h1M589.5 221v2M590.5 219v2M591 218.5h1M592.5 216v2M593 215.5h1M594.5 213v2M595.5 211v2M596 210.5h1M597 209.5h1M598 208.5h1M601 206.5h1M602 205.5h1M603 204.5h1M612 207.5h1M613 208.5h1M614 209.5h1M617 211.5h1M618 212.5h1M619 213.5h1M620 214.5h1M621 215.5h1M622 216.5h1M623 217.5h1M624.5 218v2M625 220.5h1M626 221.5h1M627 222.5h1M628 223.5h1M629 224.5h1M630.5 225v2M631 227.5h1M632 228.5h1M633 229.5h1M634.5 230v2M635 232.5h1M636.5 233v2M637.5 235v3M638.5 238v3M639.5 241v3M640.5 244v3M641.5 247v3M642.5 250v3M643.5 253v3M644.5 256v3M645.5 259v4M646.5 263v4M647.5 267v4M648.5 271v3M649.5 274v4M650.5 278v4M651.5 282v4M652.5 286v3M653.5 289v4M654.5 293v4M655.5 297v4M656.5 301v4M657.5 305v4M658.5 309v4M659.5 313v4M660.5 317v4M661.5 321v4M662.5 325v5M663.5 330v5M664.5 335v4M665.5 339v5M666.5 344v5M667.5 349v4M668.5 353v4M669.5 357v3M670.5 360v3M671.5 363v3M672.5 366v3M673.5 369v3M674.5 372v3M675.5 375v3M676.5 378v2M677 380.5h1M678.5 381v2M679 383.5h1M680 384.5h1M681 385.5h1M682.5 386v2M683 388.5h1M684 389.5h1M685 390.5h1M686 391.5h1M687 392.5h1M688.5 393v2M689 395.5h1M690 396.5h1M691 397.5h1M692.5 398v2M693.5 400v2M694.5 402v3M695.5 405v2M696.5 407v3M697.5 410v2M698.5 412v3M699.5 415v2M700.5 417v3M701.5 420v3M702.5 423v2M703.5 425v3M704.5 428v3M705.5 431v3M706.5 434v2M707.5 436v3M708.5 439v3M709.5 442v2M710.5 444v2M711.5 446v3M712.5 449v2M713.5 451v3M714.5 454v2M715.5 456v2M716.5 458v2M717 460.5h1M718 461.5h1M719 462.5h1M720.5 463v2M721 465.5h1M722 466.5h1M723 467.5h1M741 473.5h1M742 472.5h1M745 470.5h1M746 469.5h1M747 468.5h1M757 467.5h1M758 466.5h1M759 465.5h1M760 464.5h1M761 463.5h1M762 462.5h1M763 461.5h1M788 448.5h1M793 445.5h1M796 443.5h1M797 442.5h1M798 441.5h1M799 440.5h1M800 439.5h1M801 438.5h1M802 437.5h1M803 436.5h1M821.5 436v2M822 438.5h1M823 439.5h1M824.5 440v2M825 442.5h1M826 443.5h1M827.5 444v2M828 446.5h1M829.5 447v2M830 449.5h1M831 450.5h1M832.5 451v2M833 453.5h1M834 454.5h1M835.5 455v2M836 457.5h1M839 459.5h1M840 460.5h1M843 462.5h1M844 463.5h1M849 466.5h1M871 463.5h1M872 462.5h1M875 460.5h1M876 459.5h1M879 457.5h1M880 456.5h1M883 454.5h1M892 449.5h1M893 448.5h1M894 447.5h1M895 446.5h1M896.5 444v2M897 443.5h1M898 442.5h1M899 441.5h1M900 440.5h1M903 438.5h1M904 437.5h1M907 435.5h1M908 434.5h1M909.5 432v2M910 431.5h1M911.5 429v2M912 428.5h1M913.5 426v2M914 425.5h1M915.5 423v2M916 422.5h1M919 420.5h1M920 419.5h1M923 417.5h1M941.5 409v2M942.5 407v2M943 406.5h1M944.5 404v2M945 403.5h1M946.5 401v2M947.5 399v2M948.5 396v3M949.5 391v5M950.5 387v4M951.5 382v5M952.5 377v5M953.5 372v5M954.5 368v4M955.5 363v5M956.5 359v4M957.5 356v3M958.5 353v3M959.5 350v3M960.5 346v4M961.5 343v3M962.5 340v3M963.5 337v3M964.5 334v3M965.5 332v2M966.5 329v3M967.5 327v2M968.5 324v3M969.5 322v2M970.5 319v3M971.5 317v2M972.5 315v2M973.5 313v2M974.5 311v2M975.5 309v2M976.5 307v2M977.5 305v2M978.5 303v2M979.5 301v2M980 300.5h1M981 299.5h1M982 298.5h1M985 296.5h1M986 295.5h1M987 294.5h1M1001 288.5h1M1004 286.5h1M1005 285.5h1M1006 284.5h1M1007 283.5h1M1008.5 281v2M1009 280.5h1M1010 279.5h1M1011 278.5h1M1012 277.5h1M1013 276.5h1M1014 275.5h1M1017 273.5h1M1018 272.5h1M1019 271.5h1M1020 270.5h1M1023 272.5h1M1024 273.5h1M1027 275.5h1M1181 259.5h1M1182 258.5h1M1183 257.5h1M1184 256.5h1M1185 255.5h1M1186 254.5h1M1187 253.5h1M1201 246.5h1M1217 238.5h1M1220 236.5h1M1223 234.5h1M1224 233.5h1M1227 231.5h1M1228 230.5h1M1229 229.5h1M1230.5 227v2M1231 226.5h1M1232 225.5h1M1233 224.5h1M1234.5 222v2M1235 221.5h1M1263 230.5h1M1264 231.5h1M1267 233.5h1M1268 234.5h1M1269 235.5h1M1270 236.5h1M1273 238.5h1M1274 239.5h1M1275 240.5h1M1276 241.5h1M1281 244.5h1M1300 254.5h1" fill="none" stroke="#3cb371" stroke-width="1" shape-rendering="crispEdges"/><g shape-rendering="crispEdges"><rect x="0" y="149" width="1647" height="2" fill="#ff0000"/><rect x="1641" y="147" width="6" height="6" fill="#ff0000"/><rect x="1643" y="149" width="2" height="2" fill="#fff"/><rect x="0" y="186" width="1647" height="2" fill="#ff0000"/><rect x="1641" y="184" width="6" height="6" fill="#ff0000"/><rect x="1643" y="186" width="2" height="2" fill="#fff"/><rect x="0" y="224" width="1647" height="2" fill="#ffa500"/><rect x="1641" y="222" width="6" height="6" fill="#ffa500"/><rect x="1643" y="224" width="2" height="2" fill="#fff"/><rect x="0" y="285" width="1649" height="2" fill="#0000ff"/><rect x="0" y="320" width="1647" height="2" fill="#0000ff"/><rect x="1641" y="318" width="6" height="6" fill="#0000ff"/><rect x="1643" y="320" width="2" height="2" fill="#fff"/></g><g shape-rendering="crispEdges"><line x1="1173.4" y1="142.4" x2="1320" y2="231" stroke="#00ff00" stroke-width="4.3"/><polygon points="1329.2,236.6 1321.4,226.8 1316,234.9" fill="#00ff00"/></g><rect x="1647" y="24" width="1" height="604" fill="#000" shape-rendering="crispEdges"/><rect x="1647" y="285" width="2" height="2" fill="#0000ff" shape-rendering="crispEdges"/><g shape-rendering="crispEdges" clip-path="url(#cd)"><rect x="3" y="718" width="3" height="5" fill="#00ff00"/><rect x="11" y="718" width="3" height="6" fill="#00ff00"/><rect x="19" y="718" width="3" height="6" fill="#00ff00"/><rect x="27" y="718" width="3" height="10" fill="#00ff00"/><rect x="35" y="718" width="3" height="8" fill="#00ff00"/><rect x="43" y="718" width="3" height="5" fill="#00ff00"/><rect x="51" y="718" width="3" height="2" fill="#00ff00"/><rect x="59" y="716" width="3" height="2" fill="#00ff00"/><rect x="67" y="718" width="3" height="1" fill="#00ff00"/><rect x="75" y="716" width="3" height="2" fill="#00ff00"/><rect x="83" y="715" width="3" height="3" fill="#00ff00"/><rect x="91" y="714" width="3" height="4" fill="#00ff00"/><rect x="99" y="711" width="3" height="7" fill="#00ff00"/><rect x="107" y="710" width="3" height="8" fill="#00ff00"/><rect x="115" y="708" width="3" height="10" fill="#00ff00"/><rect x="123" y="709" width="3" height="9" fill="#00ff00"/><rect x="131" y="708" width="3" height="10" fill="#00ff00"/><rect x="139" y="707" width="3" height="11" fill="#00ff00"/><rect x="147" y="706" width="3" height="12" fill="#00ff00"/><rect x="155" y="705" width="3" height="13" fill="#00ff00"/><rect x="163" y="704" width="3" height="14" fill="#00ff00"/><rect x="171" y="702" width="3" height="16" fill="#00ff00"/><rect x="179" y="699" width="3" height="19" fill="#00ff00"/><rect x="187" y="697" width="3" height="21" fill="#00ff00"/><rect x="195" y="695" width="3" height="23" fill="#00ff00"/><rect x="203" y="693" width="3" height="25" fill="#00ff00"/><rect x="211" y="695" width="3" height="23" fill="#00ff00"/><rect x="219" y="695" width="3" height="23" fill="#00ff00"/><rect x="227" y="691" width="3" height="27" fill="#00ff00"/><rect x="235" y="689" width="3" height="29" fill="#00ff00"/><rect x="243" y="687" width="3" height="31" fill="#00ff00"/><rect x="251" y="684" width="3" height="34" fill="#00ff00"/><rect x="259" y="681" width="3" height="37" fill="#00ff00"/><rect x="267" y="679" width="3" height="39" fill="#00ff00"/><rect x="275" y="681" width="3" height="37" fill="#00ff00"/><rect x="283" y="682" width="3" height="36" fill="#00ff00"/><rect x="291" y="684" width="3" height="34" fill="#00ff00"/><rect x="299" y="684" width="3" height="34" fill="#00ff00"/><rect x="307" y="685" width="3" height="33" fill="#00ff00"/><rect x="315" y="685" width="3" height="33" fill="#00ff00"/><rect x="323" y="685" width="3" height="33" fill="#00ff00"/><rect x="331" y="684" width="3" height="34" fill="#00ff00"/><rect x="339" y="682" width="3" height="36" fill="#00ff00"/><rect x="347" y="684" width="3" height="34" fill="#00ff00"/><rect x="355" y="684" width="3" height="34" fill="#00ff00"/><rect x="363" y="684" width="3" height="34" fill="#00ff00"/><rect x="371" y="684" width="3" height="34" fill="#00ff00"/><rect x="379" y="684" width="3" height="34" fill="#00ff00"/><rect x="387" y="684" width="3" height="34" fill="#00ff00"/><rect x="395" y="688" width="3" height="30" fill="#00ff00"/><rect x="403" y="686" width="3" height="32" fill="#00ff00"/><rect x="411" y="685" width="3" height="33" fill="#00ff00"/><rect x="419" y="680" width="3" height="38" fill="#00ff00"/><rect x="427" y="675" width="3" height="43" fill="#00ff00"/><rect x="435" y="671" width="3" height="47" fill="#00ff00"/><rect x="443" y="667" width="3" height="51" fill="#00ff00"/><rect x="451" y="665" width="3" height="53" fill="#00ff00"/><rect x="459" y="663" width="3" height="55" fill="#00ff00"/><rect x="467" y="658" width="3" height="60" fill="#00ff00"/><rect x="475" y="653" width="3" height="65" fill="#00ff00"/><rect x="483" y="650" width="3" height="68" fill="#00ff00"/><rect x="491" y="649" width="3" height="69" fill="#00ff00"/><rect x="499" y="646" width="3" height="72" fill="#00ff00"/><rect x="507" y="643" width="3" height="75" fill="#00ff00"/><rect x="515" y="640" width="3" height="78" fill="#00ff00"/><rect x="523" y="639" width="3" height="79" fill="#00ff00"/><rect x="531" y="637" width="3" height="81" fill="#00ff00"/><rect x="539" y="640" width="3" height="78" fill="#00ff00"/><rect x="547" y="649" width="3" height="69" fill="#00ff00"/><rect x="555" y="652" width="3" height="66" fill="#00ff00"/><rect x="563" y="655" width="3" height="63" fill="#00ff00"/><rect x="571" y="658" width="3" height="60" fill="#00ff00"/><rect x="579" y="660" width="3" height="58" fill="#00ff00"/><rect x="587" y="665" width="3" height="53" fill="#00ff00"/><rect x="595" y="673" width="3" height="45" fill="#00ff00"/><rect x="603" y="680" width="3" height="38" fill="#00ff00"/><rect x="611" y="691" width="3" height="27" fill="#00ff00"/><rect x="619" y="700" width="3" height="18" fill="#00ff00"/><rect x="627" y="707" width="3" height="11" fill="#00ff00"/><rect x="635" y="711" width="3" height="7" fill="#00ff00"/><rect x="643" y="718" width="3" height="3" fill="#00ff00"/><rect x="651" y="718" width="3" height="14" fill="#00ff00"/><rect x="659" y="718" width="3" height="25" fill="#00ff00"/><rect x="667" y="718" width="3" height="35" fill="#00ff00"/><rect x="675" y="718" width="3" height="41" fill="#00ff00"/><rect x="683" y="718" width="3" height="42" fill="#00ff00"/><rect x="691" y="718" width="3" height="43" fill="#00ff00"/><rect x="699" y="718" width="3" height="49" fill="#00ff00"/><rect x="707" y="718" width="3" height="55" fill="#00ff00"/><rect x="715" y="718" width="3" height="59" fill="#00ff00"/><rect x="723" y="718" width="3" height="60" fill="#00ff00"/><rect x="731" y="718" width="3" height="60" fill="#00ff00"/><rect x="739" y="718" width="3" height="61" fill="#00ff00"/><rect x="747" y="718" width="3" height="57" fill="#00ff00"/><rect x="755" y="718" width="3" height="55" fill="#00ff00"/><rect x="763" y="718" width="3" height="52" fill="#00ff00"/><rect x="771" y="718" width="3" height="47" fill="#00ff00"/><rect x="779" y="718" width="3" height="42" fill="#00ff00"/><rect x="787" y="718" width="3" height="42" fill="#00ff00"/><rect x="795" y="718" width="3" height="47" fill="#00ff00"/><rect x="803" y="718" width="3" height="44" fill="#00ff00"/><rect x="811" y="718" width="3" height="38" fill="#00ff00"/><rect x="819" y="718" width="3" height="32" fill="#00ff00"/><rect x="827" y="718" width="3" height="20" fill="#00ff00"/><rect x="835" y="718" width="3" height="10" fill="#00ff00"/><rect x="843" y="718" width="3" height="1" fill="#00ff00" opacity="0.7"/><rect x="851" y="713" width="3" height="5" fill="#00ff00"/><rect x="859" y="709" width="3" height="9" fill="#00ff00"/><rect x="867" y="704" width="3" height="14" fill="#00ff00"/><rect x="875" y="701" width="3" height="17" fill="#00ff00"/><rect x="883" y="701" width="3" height="17" fill="#00ff00"/><rect x="891" y="697" width="3" height="21" fill="#00ff00"/><rect x="899" y="695" width="3" height="23" fill="#00ff00"/><rect x="907" y="693" width="3" height="25" fill="#00ff00"/><rect x="915" y="693" width="3" height="25" fill="#00ff00"/><rect x="923" y="691" width="3" height="27" fill="#00ff00"/><rect x="931" y="687" width="3" height="31" fill="#00ff00"/><rect x="939" y="681" width="3" height="37" fill="#00ff00"/><rect x="947" y="676" width="3" height="42" fill="#00ff00"/><rect x="955" y="671" width="3" height="47" fill="#00ff00"/><rect x="963" y="669" width="3" height="49" fill="#00ff00"/><rect x="971" y="671" width="3" height="47" fill="#00ff00"/><rect x="979" y="675" width="3" height="43" fill="#00ff00"/><rect x="987" y="677" width="3" height="41" fill="#00ff00"/><rect x="995" y="677" width="3" height="41" fill="#00ff00"/><rect x="1003" y="677" width="3" height="41" fill="#00ff00"/><rect x="1011" y="680" width="3" height="38" fill="#00ff00"/><rect x="1019" y="686" width="3" height="32" fill="#00ff00"/><rect x="1027" y="696" width="3" height="22" fill="#00ff00"/><rect x="1035" y="699" width="3" height="19" fill="#00ff00"/><rect x="1043" y="706" width="3" height="12" fill="#00ff00"/><rect x="1051" y="709" width="3" height="9" fill="#00ff00"/><rect x="1059" y="713" width="3" height="5" fill="#00ff00"/><rect x="1067" y="715" width="3" height="3" fill="#00ff00"/><rect x="1075" y="718" width="3" height="1" fill="#00ff00" opacity="0.7"/><rect x="1083" y="717" width="3" height="1" fill="#00ff00"/><rect x="1091" y="716" width="3" height="2" fill="#00ff00"/><rect x="1099" y="715" width="3" height="3" fill="#00ff00"/><rect x="1107" y="714" width="3" height="4" fill="#00ff00"/><rect x="1115" y="714" width="3" height="4" fill="#00ff00"/><rect x="1123" y="713" width="3" height="5" fill="#00ff00"/><rect x="1131" y="712" width="3" height="6" fill="#00ff00"/><rect x="1139" y="710" width="3" height="8" fill="#00ff00"/><rect x="1147" y="710" width="3" height="8" fill="#00ff00"/><rect x="1155" y="710" width="3" height="8" fill="#00ff00"/><rect x="1163" y="710" width="3" height="8" fill="#00ff00"/><rect x="1171" y="708" width="3" height="10" fill="#00ff00"/><rect x="1179" y="707" width="3" height="11" fill="#00ff00"/><rect x="1187" y="708" width="3" height="10" fill="#00ff00"/><rect x="1195" y="709" width="3" height="9" fill="#00ff00"/><rect x="1203" y="712" width="3" height="6" fill="#00ff00"/><rect x="1211" y="712" width="3" height="6" fill="#00ff00"/><rect x="1219" y="713" width="3" height="5" fill="#00ff00"/><rect x="1227" y="714" width="3" height="4" fill="#00ff00"/><rect x="1235" y="715" width="3" height="3" fill="#00ff00"/><rect x="1243" y="718" width="3" height="1" fill="#00ff00" opacity="0.7"/><rect x="1251" y="718" width="3" height="2" fill="#00ff00"/><rect x="1259" y="718" width="3" height="3" fill="#00ff00"/><rect x="1267" y="718" width="3" height="6" fill="#00ff00"/><rect x="1275" y="718" width="3" height="9" fill="#00ff00"/><rect x="1283" y="718" width="3" height="11" fill="#00ff00"/><rect x="1291" y="718" width="3" height="12" fill="#00ff00"/><rect x="1299" y="718" width="3" height="13" fill="#00ff00"/><polyline fill="none" stroke="#ff0000" stroke-width="2" points="0.0,708.0 4.5,708.0 12.5,710.6 20.5,713.4 28.5,715.2 36.5,718.4 44.5,720.5 52.5,722.0 60.5,722.0 68.5,722.0 76.5,721.5 84.5,720.7 92.5,719.7 100.5,717.3 108.5,716.7 116.5,714.3 124.5,713.2 132.5,712.0 140.5,711.2 148.5,710.2 156.5,709.0 164.5,708.1 172.5,707.3 180.5,704.9 188.5,704.1 196.5,703.1 204.5,701.0 212.5,699.0 220.5,698.2 228.5,697.2 236.5,695.5 244.5,693.7 252.5,692.3 260.5,690.4 268.5,688.4 276.5,687.5 284.5,686.6 292.5,684.1 300.5,684.1 308.5,683.1 316.5,682.8 324.5,683.7 332.5,684.1 340.5,684.1 348.5,684.1 356.5,684.1 364.5,684.1 372.5,684.1 380.5,684.1 388.5,684.1 396.5,684.1 404.5,684.1 412.5,684.1 420.5,684.1 428.5,683.1 436.5,682.2 444.5,680.2 452.5,678.2 460.5,676.6 468.5,672.3 476.5,669.0 484.5,665.4 492.5,660.9 500.5,658.1 508.5,655.1 516.5,652.2 524.5,649.2 532.5,646.3 540.5,644.4 548.5,644.2 556.5,644.4 564.5,645.3 572.5,646.5 580.5,648.5 588.5,651.3 596.5,654.2 604.5,659.5 612.5,665.4 620.5,670.7 628.5,677.2 636.5,683.1 644.5,690.6 652.5,698.7 660.5,706.6 668.5,715.8 676.5,724.5 684.5,731.4 692.5,737.9 700.5,744.3 708.5,750.8 716.5,757.0 724.5,762.6 732.5,766.8 740.5,769.5 748.5,771.3 756.5,772.4 764.5,772.9 772.5,772.9 780.5,772.4 788.5,770.3 796.5,768.3 804.5,767.4 812.5,764.4 820.5,760.9 828.5,756.7 836.5,753.0 844.5,748.0 852.5,742.7 860.5,736.2 868.5,729.7 876.5,723.2 884.5,717.3 892.5,712.6 900.5,707.3 908.5,703.4 916.5,701.4 924.5,698.4 932.5,696.6 940.5,693.7 948.5,691.6 956.5,687.5 964.5,684.2 972.5,681.3 980.5,679.3 988.5,678.3 996.5,676.2 1004.5,675.4 1012.5,675.4 1020.5,676.3 1028.5,679.5 1036.5,682.4 1044.5,686.6 1052.5,690.7 1060.5,694.8 1068.5,698.4 1076.5,703.7 1084.5,707.2 1092.5,710.5 1100.5,712.2 1108.5,714.3 1116.5,714.9 1124.5,714.9 1132.5,714.9 1140.5,714.9 1148.5,714.3 1156.5,713.4 1164.5,712.5 1172.5,711.9 1180.5,711.4 1188.5,710.5 1196.5,709.5 1204.5,709.2 1212.5,709.4 1220.5,710.0 1228.5,710.8 1236.5,711.5 1244.5,712.5 1252.5,713.6 1260.5,715.2 1268.5,716.2 1276.5,718.1 1284.5,720.2 1292.5,721.0 1300.5,723.0"/></g><g shape-rendering="crispEdges" clip-path="url(#cr)"><line x1="1" y1="816.5" x2="1647" y2="816.5" stroke="#000" stroke-width="1" stroke-dasharray="3 3"/><line x1="1" y1="856.5" x2="1647" y2="856.5" stroke="#000" stroke-width="1" stroke-dasharray="3 3"/><line x1="1" y1="904.5" x2="1647" y2="904.5" stroke="#000" stroke-width="1" stroke-dasharray="3 3"/><polyline fill="none" stroke="#1e90ff" stroke-width="2" points="0.0,865.8 4.5,865.8 12.5,860.9 20.5,860.9 28.5,869.1 36.5,855.2 44.5,850.7 52.5,850.7 60.5,849.1 68.5,859.9 76.5,853.1 84.5,852.6 92.5,851.1 100.5,849.3 108.5,848.4 116.5,848.1 124.5,852.9 132.5,850.3 140.5,848.7 148.5,846.0 156.5,846.7 164.5,845.8 172.5,840.5 180.5,836.3 188.5,836.0 196.5,834.0 204.5,833.7 212.5,846.9 220.5,842.6 228.5,832.0 236.5,832.8 244.5,832.5 252.5,829.2 260.5,825.9 268.5,828.3 276.5,842.0 284.5,839.9 292.5,840.1 300.5,842.0 308.5,836.9 316.5,836.6 324.5,833.4 332.5,830.4 340.5,829.0 348.5,833.7 356.5,832.2 364.5,831.4 372.5,829.8 380.5,829.8 388.5,839.3 396.5,845.2 404.5,829.8 412.5,828.9 420.5,821.0 428.5,819.4 436.5,817.4 444.5,815.9 452.5,819.0 460.5,817.4 468.5,810.9 476.5,810.3 484.5,809.8 492.5,809.4 500.5,807.4 508.5,805.3 516.5,805.0 524.5,806.0 532.5,805.0 540.5,822.7 548.5,845.2 556.5,836.3 564.5,836.1 572.5,834.9 580.5,835.1 588.5,841.0 596.5,855.8 604.5,856.0 612.5,869.0 620.5,869.0 628.5,869.0 636.5,865.0 644.5,875.3 652.5,885.0 660.5,886.5 668.5,887.9 676.5,887.9 684.5,873.7 692.5,873.7 700.5,885.0 708.5,885.9 716.5,885.9 724.5,879.8 732.5,880.2 740.5,882.1 748.5,869.7 756.5,876.2 764.5,866.2 772.5,863.1 780.5,862.9 788.5,870.6 796.5,879.2 804.5,863.8 812.5,858.8 820.5,855.8 828.5,845.2 836.5,843.4 844.5,843.1 852.5,846.6 860.5,846.6 868.5,843.1 876.5,845.5 884.5,851.1 892.5,844.9 900.5,844.9 908.5,844.9 916.5,844.9 924.5,842.2 932.5,836.9 940.5,831.0 948.5,830.4 956.5,827.7 964.5,835.1 972.5,841.0 980.5,849.1 988.5,846.4 996.5,841.0 1004.5,840.8 1012.5,846.9 1020.5,856.4 1028.5,867.0 1036.5,857.6 1044.5,864.1 1052.5,859.1 1060.5,859.9 1068.5,859.9 1076.5,863.1 1084.5,853.1 1092.5,852.9 1100.5,853.2 1108.5,854.0 1116.5,859.3 1124.5,848.7 1132.5,852.9 1140.5,849.9 1148.5,852.9 1156.5,852.9 1164.5,852.9 1172.5,847.9 1180.5,847.9 1188.5,855.1 1196.5,856.1 1204.5,858.8 1212.5,853.8 1220.5,858.0 1228.5,858.0 1236.5,858.0 1244.5,864.0 1252.5,860.9 1260.5,860.9 1268.5,868.9 1276.5,869.8 1284.5,869.8 1292.5,868.9 1300.5,869.8"/></g><g font-family="Liberation Sans, sans-serif" font-size="10.2px" fill="#000" stroke="#000" stroke-width="0.2" text-rendering="geometricPrecision" style="white-space:pre"><text transform="translate(1653.3,34) scale(0.889,1)" xml:space="preserve">169.160</text><text transform="translate(1653.3,67) scale(0.889,1)" xml:space="preserve">168.530</text><text transform="translate(1653.3,100) scale(0.889,1)" xml:space="preserve">167.900</text><text transform="translate(1653.3,133) scale(0.889,1)" xml:space="preserve">167.255</text><text transform="translate(1653.3,166) scale(0.889,1)" xml:space="preserve">166.625</text><text transform="translate(1653.3,199) scale(0.889,1)" xml:space="preserve">165.995</text><text transform="translate(1653.3,232) scale(0.889,1)" xml:space="preserve">165.350</text><text transform="translate(1653.3,265) scale(0.889,1)" xml:space="preserve">164.720</text><text transform="translate(1653.3,298) scale(0.889,1)" xml:space="preserve">164.090</text><text transform="translate(1653.3,331) scale(0.889,1)" xml:space="preserve">163.460</text><text transform="translate(1653.3,364) scale(0.889,1)" xml:space="preserve">162.815</text><text transform="translate(1653.3,397) scale(0.889,1)" xml:space="preserve">162.185</text><text transform="translate(1653.3,430) scale(0.889,1)" xml:space="preserve">161.555</text><text transform="translate(1653.3,463) scale(0.889,1)" xml:space="preserve">160.910</text><text transform="translate(1653.3,496) scale(0.889,1)" xml:space="preserve">160.280</text><text transform="translate(1653.3,529) scale(0.889,1)" xml:space="preserve">159.650</text><text transform="translate(1653.3,562) scale(0.889,1)" xml:space="preserve">159.020</text><text transform="translate(1653.3,595) scale(0.889,1)" xml:space="preserve">158.375</text><text transform="translate(1653.3,628) scale(0.889,1)" xml:space="preserve">157.745</text></g><g shape-rendering="crispEdges"><rect x="1649" y="144" width="41" height="11" fill="#ff0000"/><rect x="1649" y="181" width="41" height="11" fill="#ff0000"/><rect x="1649" y="219" width="41" height="11" fill="#ffa500"/><rect x="1649" y="280" width="41" height="11" fill="#0000ff"/><rect x="1649" y="315" width="41" height="11" fill="#0000ff"/><rect x="1649" y="239" width="41" height="11" fill="#000"/></g><g font-family="Liberation Sans, sans-serif" font-size="10.2px" fill="#000" stroke="#000" stroke-width="0.2" text-rendering="geometricPrecision"><text transform="translate(1653.3,153) scale(0.889,1)" fill="#fff" stroke="#fff" xml:space="preserve">166.852</text><text transform="translate(1653.3,190) scale(0.889,1)" fill="#fff" stroke="#fff" xml:space="preserve">166.142</text><text transform="translate(1653.3,228) scale(0.889,1)" fill="#fff" stroke="#fff" xml:space="preserve">165.413</text><text transform="translate(1653.3,289) scale(0.889,1)" fill="#fff" stroke="#fff" xml:space="preserve">164.242</text><text transform="translate(1653.3,324) scale(0.889,1)" fill="#fff" stroke="#fff" xml:space="preserve">163.571</text><text transform="translate(1653.3,248) scale(0.889,1)" fill="#fff" stroke="#fff" xml:space="preserve">165.044</text><text transform="translate(1650.7,640) scale(0.889,1)" xml:space="preserve">1.5505</text><text transform="translate(1650.7,722) scale(0.889,1)" xml:space="preserve">0.00</text><text transform="translate(1650.2,782) scale(0.889,1)" xml:space="preserve">-1.1666</text><text transform="translate(1650.7,798) scale(0.889,1)" xml:space="preserve">100</text><text transform="translate(1649.8,820) scale(0.889,1)" xml:space="preserve">80</text><text transform="translate(1649.8,860) scale(0.889,1)" xml:space="preserve">50</text><text transform="translate(1650.7,908) scale(0.889,1)" xml:space="preserve">15</text><text transform="translate(1650.3,922) scale(0.889,1)" xml:space="preserve">0</text><text transform="translate(3,36) scale(0.889,1)" letter-spacing="0.112" xml:space="preserve">GBPJPY-,H4  165.147 165.314 165.044 165.044</text><text transform="translate(-7.2,642) scale(0.889,1)" letter-spacing="0.112" xml:space="preserve">MACD(12,26,9) -0.2071 -0.0821</text><text transform="translate(-7.6,800) scale(0.889,1)" letter-spacing="0.056" xml:space="preserve">RSI(14) 40.3543</text><text transform="translate(-13.3,938) scale(0.889,1)" letter-spacing="0.337" xml:space="preserve">23 May 2022</text><text transform="translate(50.7,938) scale(0.889,1)" letter-spacing="0.337" xml:space="preserve">25 May 20:00</text><text transform="translate(114.7,938) scale(0.889,1)" letter-spacing="0.337" xml:space="preserve">27 May 04:00</text><text transform="translate(178.7,938) scale(0.889,1)" letter-spacing="0.337" xml:space="preserve">30 May 12:00</text><text transform="translate(242.7,938) scale(0.889,1)" letter-spacing="0.337" xml:space="preserve">31 May 20:00</text><text transform="translate(306.7,938) scale(0.889,1)" letter-spacing="0.112" xml:space="preserve">2 Jun 04:00</text><text transform="translate(370.7,938) scale(0.889,1)" letter-spacing="0.112" xml:space="preserve">3 Jun 12:00</text><text transform="translate(434.7,938) scale(0.889,1)" letter-spacing="0.112" xml:space="preserve">6 Jun 20:00</text><text transform="translate(498.7,938) scale(0.889,1)" letter-spacing="0.112" xml:space="preserve">8 Jun 04:00</text><text transform="translate(562.7,938) scale(0.889,1)" letter-spacing="0.112" xml:space="preserve">9 Jun 12:00</text><text transform="translate(626.7,938) scale(0.889,1)" letter-spacing="0.112" xml:space="preserve">12 Jun 23:00</text><text transform="translate(690.7,938) scale(0.889,1)" letter-spacing="0.112" xml:space="preserve">14 Jun 04:00</text><text transform="translate(754.7,938) scale(0.889,1)" letter-spacing="0.112" xml:space="preserve">15 Jun 12:00</text><text transform="translate(818.7,938) scale(0.889,1)" letter-spacing="0.112" xml:space="preserve">16 Jun 20:00</text><text transform="translate(882.7,938) scale(0.889,1)" letter-spacing="0.112" xml:space="preserve">20 Jun 04:00</text><text transform="translate(946.7,938) scale(0.889,1)" letter-spacing="0.112" xml:space="preserve">21 Jun 12:00</text><text transform="translate(1010.7,938) scale(0.889,1)" letter-spacing="0.112" xml:space="preserve">22 Jun 20:00</text><text transform="translate(1074.7,938) scale(0.889,1)" letter-spacing="0.112" xml:space="preserve">24 Jun 04:00</text><text transform="translate(1138.7,938) scale(0.889,1)" letter-spacing="0.112" xml:space="preserve">27 Jun 12:00</text><text transform="translate(1202.7,938) scale(0.889,1)" letter-spacing="0.112" xml:space="preserve">28 Jun 20:00</text><text transform="translate(1266.7,938) scale(0.889,1)" letter-spacing="0.112" xml:space="preserve">30 Jun 04:00</text></g></svg>
<svg width="1694" height="24" viewBox="0 0 1694 24" style="position:absolute;left:0;top:0"><defs><pattern id="chk" width="2" height="2" patternUnits="userSpaceOnUse"><rect width="2" height="2" fill="#f1f1f1"/><rect width="1" height="1" fill="#fff"/><rect x="1" y="1" width="1" height="1" fill="#fff"/></pattern><linearGradient id="cld" x1="0" y1="0" x2="0" y2="1"><stop offset="0" stop-color="#ffffff"/><stop offset="1" stop-color="#c4cde0"/></linearGradient><linearGradient id="cnd" x1="0" y1="0" x2="1" y2="0"><stop offset="0" stop-color="#18c018"/><stop offset="0.5" stop-color="#98ff98"/><stop offset="1" stop-color="#18c018"/></linearGradient><linearGradient id="hnd" x1="0" y1="0" x2="1" y2="1"><stop offset="0" stop-color="#fbe060"/><stop offset="1" stop-color="#d8a818"/></linearGradient><radialGradient id="swp" cx="0" cy="0" r="1"><stop offset="0" stop-color="#40b040" stop-opacity="0.15"/><stop offset="1" stop-color="#40a840" stop-opacity="0.75"/></radialGradient><linearGradient id="gold" x1="0" y1="0.3" x2="1" y2="0.7"><stop offset="0" stop-color="#fdf0a0"/><stop offset="0.45" stop-color="#f0c838"/><stop offset="1" stop-color="#c88c18"/></linearGradient><linearGradient id="grn" x1="0" y1="0" x2="0.6" y2="1"><stop offset="0" stop-color="#a0ffa0"/><stop offset="0.5" stop-color="#30e030"/><stop offset="1" stop-color="#08a008"/></linearGradient><radialGradient id="redb" cx="0.5" cy="0.3" r="0.8"><stop offset="0" stop-color="#ee5a3a"/><stop offset="1" stop-color="#d42a14"/></radialGradient><radialGradient id="clk" cx="0.5" cy="0.4" r="0.6"><stop offset="0" stop-color="#ffffff"/><stop offset="1" stop-color="#dfe8f5"/></radialGradient><linearGradient id="blu2" x1="0" y1="0" x2="0" y2="1"><stop offset="0" stop-color="#3a98f0"/><stop offset="0.6" stop-color="#1566cc"/><stop offset="1" stop-color="#0a449c"/></linearGradient><linearGradient id="blu" x1="0" y1="0" x2="0" y2="1"><stop offset="0" stop-color="#55aaf5"/><stop offset="1" stop-color="#1767d0"/></linearGradient></defs><rect x="0" y="0" width="1694" height="19" fill="#f0f0f0"/><rect x="0" y="19" width="1694" height="1" fill="#f6f6f6"/><rect x="0" y="20" width="1694" height="1" fill="#a3a3a3"/><rect x="0" y="21" width="1694" height="1" fill="#696969"/><rect x="0" y="22" width="1694" height="2" fill="#fff"/><rect x="283" y="0" width="25" height="19" fill="url(#chk)" shape-rendering="crispEdges"/><rect x="435" y="0" width="25" height="19" fill="url(#chk)" shape-rendering="crispEdges"/><rect x="463" y="0" width="25" height="19" fill="url(#chk)" shape-rendering="crispEdges"/><rect x="623" y="0" width="25" height="19" fill="url(#chk)" shape-rendering="crispEdges"/><rect x="1069" y="0" width="25" height="19" fill="url(#chk)" shape-rendering="crispEdges"/><rect x="244" y="0" width="1" height="19" fill="#a0a0a0" shape-rendering="crispEdges"/><rect x="245" y="0" width="1" height="19" fill="#fff" shape-rendering="crispEdges"/><rect x="282" y="0" width="1" height="19" fill="#a0a0a0" shape-rendering="crispEdges"/><rect x="283" y="0" width="1" height="19" fill="#fff" shape-rendering="crispEdges"/><rect x="339" y="0" width="1" height="19" fill="#a0a0a0" shape-rendering="crispEdges"/><rect x="340" y="0" width="1" height="19" fill="#fff" shape-rendering="crispEdges"/><rect x="429" y="0" width="1" height="19" fill="#a0a0a0" shape-rendering="crispEdges"/><rect x="430" y="0" width="1" height="19" fill="#fff" shape-rendering="crispEdges"/><rect x="434" y="0" width="1" height="19" fill="#a0a0a0" shape-rendering="crispEdges"/><rect x="435" y="0" width="1" height="19" fill="#fff" shape-rendering="crispEdges"/><rect x="462" y="0" width="1" height="19" fill="#a0a0a0" shape-rendering="crispEdges"/><rect x="463" y="0" width="1" height="19" fill="#fff" shape-rendering="crispEdges"/><rect x="491" y="0" width="1" height="19" fill="#a0a0a0" shape-rendering="crispEdges"/><rect x="492" y="0" width="1" height="19" fill="#fff" shape-rendering="crispEdges"/><rect x="612" y="0" width="1" height="19" fill="#a0a0a0" shape-rendering="crispEdges"/><rect x="613" y="0" width="1" height="19" fill="#fff" shape-rendering="crispEdges"/><rect x="622" y="0" width="1" height="19" fill="#a0a0a0" shape-rendering="crispEdges"/><rect x="623" y="0" width="1" height="19" fill="#fff" shape-rendering="crispEdges"/><rect x="679" y="0" width="1" height="19" fill="#a0a0a0" shape-rendering="crispEdges"/><rect x="680" y="0" width="1" height="19" fill="#fff" shape-rendering="crispEdges"/><rect x="918" y="0" width="1" height="19" fill="#a0a0a0" shape-rendering="crispEdges"/><rect x="919" y="0" width="1" height="19" fill="#fff" shape-rendering="crispEdges"/><rect x="1068" y="0" width="1" height="19" fill="#a0a0a0" shape-rendering="crispEdges"/><rect x="1069" y="0" width="1" height="19" fill="#fff" shape-rendering="crispEdges"/><rect x="1179" y="0" width="1" height="19" fill="#a0a0a0" shape-rendering="crispEdges"/><rect x="1180" y="0" width="1" height="19" fill="#fff" shape-rendering="crispEdges"/><rect x="8" y="0" width="1" height="18" fill="#a0a0a0" shape-rendering="crispEdges"/><rect x="9" y="0" width="1" height="18" fill="#fff" shape-rendering="crispEdges"/><rect x="248" y="1" width="3" height="1" fill="#a6a6a6" shape-rendering="crispEdges"/><rect x="248" y="3" width="3" height="1" fill="#a6a6a6" shape-rendering="crispEdges"/><rect x="248" y="5" width="3" height="1" fill="#a6a6a6" shape-rendering="crispEdges"/><rect x="248" y="7" width="3" height="1" fill="#a6a6a6" shape-rendering="crispEdges"/><rect x="248" y="9" width="3" height="1" fill="#a6a6a6" shape-rendering="crispEdges"/><rect x="248" y="11" width="3" height="1" fill="#a6a6a6" shape-rendering="crispEdges"/><rect x="248" y="13" width="3" height="1" fill="#a6a6a6" shape-rendering="crispEdges"/><rect x="248" y="15" width="3" height="1" fill="#a6a6a6" shape-rendering="crispEdges"/><rect x="248" y="17" width="3" height="1" fill="#a6a6a6" shape-rendering="crispEdges"/><rect x="616" y="1" width="3" height="1" fill="#a6a6a6" shape-rendering="crispEdges"/><rect x="616" y="3" width="3" height="1" fill="#a6a6a6" shape-rendering="crispEdges"/><rect x="616" y="5" width="3" height="1" fill="#a6a6a6" shape-rendering="crispEdges"/><rect x="616" y="7" width="3" height="1" fill="#a6a6a6" shape-rendering="crispEdges"/><rect x="616" y="9" width="3" height="1" fill="#a6a6a6" shape-rendering="crispEdges"/><rect x="616" y="11" width="3" height="1" fill="#a6a6a6" shape-rendering="crispEdges"/><rect x="616" y="13" width="3" height="1" fill="#a6a6a6" shape-rendering="crispEdges"/><rect x="616" y="15" width="3" height="1" fill="#a6a6a6" shape-rendering="crispEdges"/><rect x="616" y="17" width="3" height="1" fill="#a6a6a6" shape-rendering="crispEdges"/><rect x="922" y="1" width="3" height="1" fill="#a6a6a6" shape-rendering="crispEdges"/><rect x="922" y="3" width="3" height="1" fill="#a6a6a6" shape-rendering="crispEdges"/><rect x="922" y="5" width="3" height="1" fill="#a6a6a6" shape-rendering="crispEdges"/><rect x="922" y="7" width="3" height="1" fill="#a6a6a6" shape-rendering="crispEdges"/><rect x="922" y="9" width="3" height="1" fill="#a6a6a6" shape-rendering="crispEdges"/><rect x="922" y="11" width="3" height="1" fill="#a6a6a6" shape-rendering="crispEdges"/><rect x="922" y="13" width="3" height="1" fill="#a6a6a6" shape-rendering="crispEdges"/><rect x="922" y="15" width="3" height="1" fill="#a6a6a6" shape-rendering="crispEdges"/><rect x="922" y="17" width="3" height="1" fill="#a6a6a6" shape-rendering="crispEdges"/><path d="M4.5,2.8L6.4,4.7L4.5,6.6L2.6,4.7Z" fill="none" stroke="#222" stroke-width="0.9"/><rect x="0" y="14.6" width="0.8" height="1.6" fill="#e8b458"/><g><path d="M18.5,0.5H26.5L29.5,3.5V13.2H18.5Z" fill="#fcfcfc" stroke="#8a8a8a" stroke-width="1"/><path d="M26.5,0.5V3.5H29.5" fill="#e4e4e4" stroke="#8a8a8a" stroke-width="0.8"/><path d="M20.5,3.3H24 M20.5,6H27 M20.5,8.3H24" stroke="#9a9a9a" stroke-width="1"/><path d="M26.6,6.6H29.9V10.5H33.8V13.8H29.9V17.7H26.6V13.8H22.5V10.5H26.6Z" fill="url(#grn)" stroke="#0a8a0a" stroke-width="0.7"/></g><text x="36.9" y="11.5" font-family="Liberation Sans, Noto Sans CJK SC, sans-serif" font-size="12px" fill="#000" stroke="#000" stroke-width="0.26">新订单</text><g><path d="M85.4,9.8L94,14.8L94.2,16.2L85.2,11Z" fill="#a8700e"/><path d="M94,14.8L100.6,7.2L100.8,10L94.2,16.2Z" fill="#d9aa48"/><path d="M94.1,15.4L100.7,8.2 M94.1,15.9L100.7,9.2" stroke="#9a6a10" stroke-width="0.4"/><path d="M85.4,9.8C87,7.4 88.6,4.6 90.8,1.2L100.6,7.2L94,14.8Z" fill="url(#gold)" stroke="#b8821a" stroke-width="0.6"/><path d="M86.4,9.6C88,7 89.4,4.8 91.2,2.4" stroke="#fff4b8" stroke-width="0.9" fill="none"/></g><g><path d="M115.4,0.6L118.4,0.2L126.2,0.2L126.2,10L115.4,10Z" fill="#2d8cf0"/><path d="M115.4,0.8L118.4,0.2V10H115.4Z" fill="#1ea0ff"/><path d="M115.9,1V9.5" stroke="#bfe6ff" stroke-width="0.8"/><path d="M118.4,0.2H126.2V1.2H118.4Z" fill="#6a6ae0" opacity="0.7"/><path d="M120,4.8L125,4.2" stroke="#eef8ff" stroke-width="1.3"/><path d="M115.6,15.6C112.4,15.6 112.2,11.6 115,11.2C115.4,9.6 117.6,9.4 118.4,10.4C119.6,7.6 124.2,7.8 124.6,10.6C127.2,9.6 129.6,11.6 128.6,13.6C129.4,15 128,15.7 126.6,15.6Z" fill="url(#cld)" stroke="#5f70a0" stroke-width="0.9"/></g><g fill="none"><path d="M149.1,7.7V16A8.3,8.3 0 0 0 154.4,1.3Z" fill="#58b858" opacity="0.4"/><circle cx="149.1" cy="7.7" r="7.6" stroke="#6a90e4" stroke-width="1" opacity="0.55"/><circle cx="149.1" cy="7.7" r="4.5" stroke="#4a7ae0" stroke-width="1.1" opacity="0.7"/><path d="M149.3,7.7V16" stroke="#22a822" stroke-width="1.5"/><circle cx="149" cy="7.5" r="1.7" fill="#2458cc"/></g><g><path d="M168.6,6.8L175.8,16L183.6,7Z" fill="#f6d84a" stroke="#cfa01c" stroke-width="0.7"/><path d="M169.8,7.6L175.8,15L176.4,8Z" fill="#fbea90" opacity="0.8"/><ellipse cx="176" cy="5" rx="7.9" ry="2.7" fill="#6cb8ea" stroke="#2f8ccc" stroke-width="0.7"/><path d="M173.2,4.4C173.2,-0.8 179.4,-0.8 179.4,4.4C178,5.4 174.6,5.4 173.2,4.4Z" fill="#7cc4f0" stroke="#2f8ccc" stroke-width="0.6"/><circle cx="180.6" cy="11.6" r="4.1" fill="#e22810"/><circle cx="180.6" cy="11.6" r="4.1" fill="none" stroke="#b81c08" stroke-width="0.5"/><rect x="179.1" y="10.2" width="3" height="3" fill="#fff"/></g><text x="189.2" y="11.5" font-family="Liberation Sans, Noto Sans CJK SC, sans-serif" font-size="12px" fill="#000" stroke="#000" stroke-width="0.26">自动交易</text><g fill="#555"><rect x="262" y="3" width="1" height="13.4" shape-rendering="crispEdges"/><rect x="260" y="13" width="12.4" height="1" shape-rendering="crispEdges"/><path d="M262.5,1.6L264.3,4.4H260.7Z"/><path d="M274.2,13.5L271.6,11.6V15.4Z"/></g><path d="M268.6,3.1V11.9 M268.6,4.6H271 M266,10.4H268.6" stroke="#0e8a0e" stroke-width="1.3" fill="none"/><g fill="#555"><rect x="290" y="3" width="1" height="13.4" shape-rendering="crispEdges"/><rect x="288" y="13" width="12.4" height="1" shape-rendering="crispEdges"/><path d="M290.5,1.6L292.3,4.4H288.7Z"/><path d="M302.2,13.5L299.6,11.6V15.4Z"/></g><path d="M296.5,0V11.6" stroke="#0e8a0e" stroke-width="1.1"/><rect x="294.4" y="2.3" width="4.3" height="7.3" fill="url(#cnd)" stroke="#0e8a0e" stroke-width="0.9"/><g fill="#555"><rect x="318" y="3" width="1" height="13.4" shape-rendering="crispEdges"/><rect x="316" y="13" width="12.4" height="1" shape-rendering="crispEdges"/><path d="M318.5,1.6L320.3,4.4H316.7Z"/><path d="M330.2,13.5L327.6,11.6V15.4Z"/></g><path d="M317.2,10.5C320,9.4 321,5.3 323.3,5.3C325.4,5.3 326.4,8.2 328.8,9" stroke="#2a982a" stroke-width="1.3" fill="none"/><g><path d="M357.6,9.8L362.6,14.6" stroke="#a87410" stroke-width="3.6"/><path d="M357.6,9.8L362.4,14.4" stroke="url(#hnd)" stroke-width="2.2"/><circle cx="354" cy="5.8" r="5.7" fill="#def2ff" stroke="#2e74c4" stroke-width="1.1"/><path d="M350.5,5.9H357.5 M354,2.4V9.4" stroke="#4888b8" stroke-width="1.8"/></g><g><path d="M385.5,9.8L390.5,14.6" stroke="#a87410" stroke-width="3.6"/><path d="M385.5,9.8L390.29999999999995,14.4" stroke="url(#hnd)" stroke-width="2.2"/><circle cx="381.9" cy="5.8" r="5.7" fill="#def2ff" stroke="#2e74c4" stroke-width="1.1"/><path d="M378.4,5.9H385.4" stroke="#4888b8" stroke-width="1.8"/></g><g shape-rendering="crispEdges"><rect x="404" y="0" width="8" height="8" fill="#3c9a14"/><rect x="405" y="1" width="1" height="1" fill="#dfe8ff"/><rect x="405" y="3" width="6" height="4" fill="#fff"/><rect x="406" y="4" width="4" height="1" fill="#b4e090"/><rect x="406" y="6" width="4" height="1" fill="#3c9a14"/><rect x="412" y="0" width="8" height="8" fill="#1f4cd6"/><rect x="413" y="1" width="1" height="1" fill="#dfe8ff"/><rect x="413" y="3" width="6" height="4" fill="#fff"/><rect x="414" y="4" width="4" height="1" fill="#a8b8f8"/><rect x="414" y="6" width="4" height="1" fill="#1f4cd6"/><rect x="404" y="8" width="8" height="8" fill="#1f4cd6"/><rect x="405" y="9" width="1" height="1" fill="#dfe8ff"/><rect x="405" y="11" width="6" height="4" fill="#fff"/><rect x="406" y="12" width="4" height="1" fill="#a8b8f8"/><rect x="406" y="14" width="4" height="1" fill="#1f4cd6"/><rect x="412" y="8" width="8" height="8" fill="#3c9a14"/><rect x="413" y="9" width="1" height="1" fill="#dfe8ff"/><rect x="413" y="11" width="6" height="4" fill="#fff"/><rect x="414" y="12" width="4" height="1" fill="#b4e090"/><rect x="414" y="14" width="4" height="1" fill="#3c9a14"/></g><g fill="#555"><rect x="442" y="3" width="1" height="13.4" shape-rendering="crispEdges"/><rect x="440" y="13" width="12.4" height="1" shape-rendering="crispEdges"/><path d="M442.5,1.6L444.3,4.4H440.7Z"/><path d="M454.2,13.5L451.6,11.6V15.4Z"/></g><path d="M447.4,4L451.2,7.4L447.4,10.8Z" fill="#3fd03f" stroke="#1c8a1c" stroke-width="0.7"/><g fill="#555"><rect x="470" y="3" width="1" height="13.4" shape-rendering="crispEdges"/><rect x="468" y="13" width="12.4" height="1" shape-rendering="crispEdges"/><path d="M470.5,1.6L472.3,4.4H468.7Z"/><path d="M482.2,13.5L479.6,11.6V15.4Z"/></g><path d="M476.5,2V12" stroke="#1c6ab0" stroke-width="1.2"/><path d="M478,7.5H481.6 M479.8,5.6L477.8,7.5L479.8,9.4" stroke="#d03a10" stroke-width="1.1" fill="none"/><g><path d="M501.5,1H508.5L512.5,4.5V13.2H501.5Z" fill="#fcfcfc" stroke="#8a8a8a" stroke-width="1"/><path d="M508.5,1V4.5H512.5" fill="#e4e4e4" stroke="#8a8a8a" stroke-width="0.8"/><path d="M503.8,4.6V10.4 M503.8,5.6H505.2 M503.8,8.4H505" stroke="#777" stroke-width="0.9"/><path d="M509.4,6.2H512.7V10H516.8V13.3H512.7V17.5H509.4V13.3H505.5V10H509.4Z" fill="url(#grn)" stroke="#0a8a0a" stroke-width="0.7"/></g><polygon points="522.6,6.9 528.0,6.9 525.3000000000001,10.2" fill="#000"/><g><rect x="545.6" y="-0.6" width="2.8" height="1.6" rx="0.6" fill="#1a68c8"/><circle cx="547" cy="8" r="7.9" fill="url(#blu2)"/><circle cx="547" cy="7.8" r="5.5" fill="url(#clk)" stroke="#0e4a9c" stroke-width="0.4"/><path d="M547,3V4 M547,11.6V12.6 M542.2,7.8H543.2 M550.8,7.8H551.8 M544.2,4.6L544.7,5.3 M549.8,4.6L549.3,5.3 M544.2,11L544.7,10.3 M549.8,11L549.3,10.3" stroke="#8a9ab8" stroke-width="0.7"/><path d="M546.9,4.2V8.2H549.8" stroke="#333" stroke-width="1.2" fill="none"/></g><polygon points="561.6,6.9 567.0,6.9 564.3000000000001,10.2" fill="#000"/><g><rect x="578.5" y="1.5" width="15" height="13" fill="#fdfdfd" stroke="#3a70cc" stroke-width="1"/><rect x="578" y="1" width="16" height="2.6" fill="#5c98e8"/><rect x="579" y="1.4" width="14" height="0.9" fill="#a8ccf6"/><path d="M578.5,9.5H593.5" stroke="#4a7cd4" stroke-width="1"/><path d="M580,7.4L582.4,7L584,5.8L586,5.4L588,6.4L590,6.2L592.2,5" stroke="#a82810" stroke-width="1.3" fill="none"/><path d="M580,13L582.4,12L584.4,12.8L587,10.6L589.2,12.2L592,11.6" stroke="#18982c" stroke-width="1.2" fill="none"/></g><polygon points="600.5,6.9 605.9,6.9 603.2,10.2" fill="#000"/><path d="M630.4,1.2V13L633.2,10.4L635.4,15.2L637.4,14.2L635.2,9.6L638.6,9.4Z" fill="#444"/><path d="M662.5,1.2V6.6 M662.5,10.4V15.8 M655,8.5H660.6 M664.4,8.5H670 M662.5,8V9" stroke="#444" stroke-width="1" shape-rendering="crispEdges"/><path d="M696.5,2V15" stroke="#444" stroke-width="1" shape-rendering="crispEdges"/><path d="M719,8.5H731" stroke="#444" stroke-width="1" shape-rendering="crispEdges"/><path d="M747,15L758.6,3.2" stroke="#444" stroke-width="1"/><g stroke="#3c3c3c" stroke-width="1.05" fill="none"><path d="M772.6,9.5L780.9,2 M777.9,14.9L787,6.3" stroke-width="0.9"/><path d="M775.5,7.1V14.9 M773.6,13.4H775.5 M775.5,11.4H777 M778.5,6.1V11.7 M777,10.4H778.5 M778.5,8.4H780 M781.5,4V10.7 M780,7.4H781.5 M781.5,5.4H783 M784.6,0V7 M783,4.4H784.6 M784.6,2.4H786.2"/></g><path d="M784.8,12.2V16.6 M784.8,12.7H788 M784.8,14.4H787.4 M784.8,16.1H788" stroke="#333" stroke-width="1.2" fill="none"/><g stroke="#555" stroke-width="1" stroke-dasharray="1 1" shape-rendering="crispEdges"><path d="M802,1.5H815 M802,4.5H815 M802,8.5H815 M802,12.5H811"/></g><path d="M812.7,12.2V16.6 M812.7,12.7H816 M812.7,14.5H815.4" stroke="#333" stroke-width="1.2" fill="none"/><text x="832.6" y="12.7" font-family="Liberation Sans, sans-serif" font-size="12px" font-weight="bold" fill="#555">A</text><rect x="859.5" y="2.5" width="11" height="12" fill="none" stroke="#555" stroke-width="1" stroke-dasharray="1 1" shape-rendering="crispEdges"/><path d="M861.8,5H868.4 M865.1,5V12.6" stroke="#555" stroke-width="1.3" fill="none"/><g fill="#444"><path d="M886.2,5.2L889.6,1.8L893,5.2L889.6,6.6Z"/><path d="M893.2,11.6L896.8,10L900.2,11.6L896.8,15Z"/><path d="M888.6,9.4L890.6,11.6L895.4,6.6" stroke="#444" stroke-width="1.2" fill="none"/></g><polygon points="907,6.9 912.4,6.9 909.7,10.2" fill="#000"/><g font-family="Liberation Sans, sans-serif" font-size="10.2px" fill="#3a3a3a" stroke="#3a3a3a" stroke-width="0.12" text-anchor="middle" text-rendering="geometricPrecision"><text transform="translate(940,12) scale(0.889,1)">M1</text><text transform="translate(967.8,12) scale(0.889,1)">M5</text><text transform="translate(996.2,12) scale(0.889,1)">M15</text><text transform="translate(1024.3,12) scale(0.889,1)">M30</text><text transform="translate(1052.2,12) scale(0.889,1)">H1</text><text transform="translate(1079.8,12) scale(0.889,1)">H4</text><text transform="translate(1108.4,12) scale(0.889,1)">D1</text><text transform="translate(1137.2,12) scale(0.889,1)">W1</text><text transform="translate(1164.2,12) scale(0.889,1)">MN</text></g><g><path d="M1646.6,8.6L1642,13" stroke="#1f55c4" stroke-width="2.4" stroke-linecap="round"/><circle cx="1649.8" cy="5.5" r="3.9" fill="#eef2fb" stroke="#2a62d4" stroke-width="1.2"/></g><g><path d="M1666.6,9.6C1666.6,6.4 1670,4.8 1673.6,4.8C1677.4,4.8 1680.6,6.6 1680.6,9.6C1680.6,12.8 1677.4,14.2 1673.6,14.2L1671.4,14.2L1669.4,16.6L1669.6,13.6C1667.8,12.8 1666.6,11.4 1666.6,9.6Z" fill="#e4e4ec" stroke="#b8b8c0" stroke-width="0.8"/><circle cx="1680.7" cy="5.7" r="8.3" fill="url(#redb)"/><text x="1679.5" y="9.9" font-family="Liberation Serif, serif" font-size="12.8px" font-weight="bold" fill="#fff" text-anchor="middle">1</text></g></svg>
</body></html>
